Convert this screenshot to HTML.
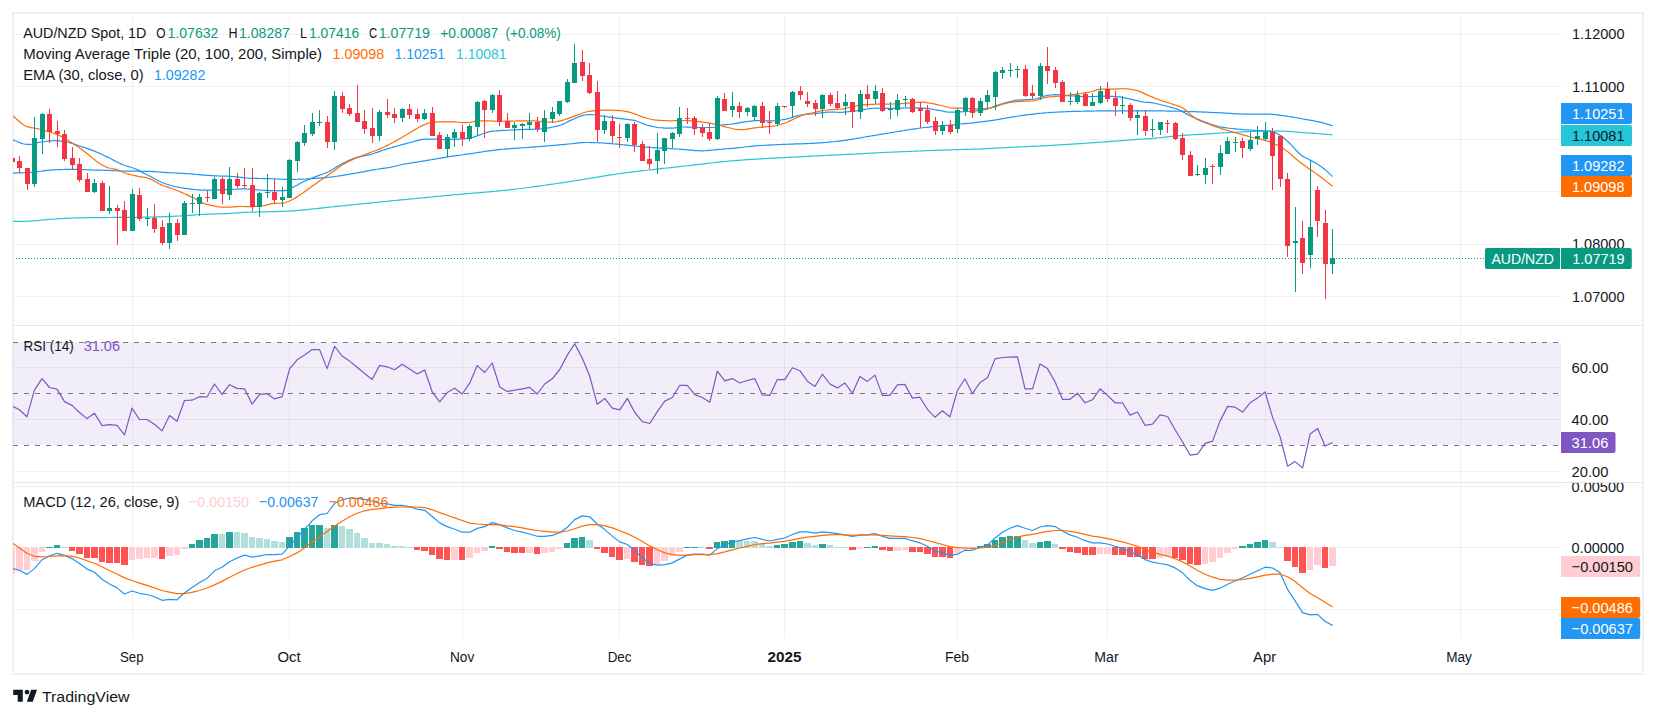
<!DOCTYPE html>
<html lang="en"><head><meta charset="utf-8"><title>AUD/NZD Spot, 1D</title>
<style>html,body{margin:0;padding:0;background:#fff}body{width:1656px;height:718px;overflow:hidden}svg{display:block}</style>
</head><body>
<svg width="1656" height="718" viewBox="0 0 1656 718" font-family='Liberation Sans, sans-serif' font-size="15.2">
<rect width="1656" height="718" fill="#fff"/>
<defs><clipPath id="cp"><rect x="13" y="14" width="1548" height="311"/></clipPath><clipPath id="cr"><rect x="13" y="326" width="1548" height="156"/></clipPath><clipPath id="cm"><rect x="13" y="483" width="1548" height="156"/></clipPath><clipPath id="cs"><rect x="1561" y="483" width="81" height="156"/></clipPath></defs>
<path d="M13,13H1643V674H13Z" fill="none" stroke="#EEEFF5" stroke-width="2" shape-rendering="crispEdges"/>
<rect x="13" y="342" width="1548" height="103" fill="#7E57C2" fill-opacity="0.1" shape-rendering="crispEdges"/>
<g shape-rendering="crispEdges" fill="#2A2E39" fill-opacity="0.065"><rect x="132" y="14" width="1" height="625"/><rect x="289" y="14" width="1" height="625"/><rect x="462" y="14" width="1" height="625"/><rect x="619" y="14" width="1" height="625"/><rect x="784" y="14" width="1" height="625"/><rect x="957" y="14" width="1" height="625"/><rect x="1107" y="14" width="1" height="625"/><rect x="1265" y="14" width="1" height="625"/><rect x="1460" y="14" width="1" height="625"/><rect x="14" y="34" width="1547" height="1"/><rect x="14" y="86" width="1547" height="1"/><rect x="14" y="139" width="1547" height="1"/><rect x="14" y="191" width="1547" height="1"/><rect x="14" y="244" width="1547" height="1"/><rect x="14" y="296" width="1547" height="1"/><rect x="14" y="367" width="1547" height="1"/><rect x="14" y="419" width="1547" height="1"/><rect x="14" y="471" width="1547" height="1"/><rect x="14" y="486" width="1547" height="1"/><rect x="14" y="547" width="1547" height="1"/><rect x="14" y="609" width="1547" height="1"/></g>
<g shape-rendering="crispEdges" fill="#E1E4EC"><rect x="14" y="325" width="1628" height="1"/><rect x="14" y="482" width="1628" height="1"/></g>
<line x1="16" x2="1484" y1="258.5" y2="258.5" stroke="#089981" stroke-width="1" stroke-dasharray="1 2" shape-rendering="crispEdges"/>
<path d="M13.0,221.30 L15.0,221.30 L17.0,221.30 L19.0,221.30 L21.0,221.30 L23.0,221.30 L25.0,221.29 L27.0,221.25 L29.0,221.16 L31.0,221.04 L33.0,220.90 L35.0,220.73 L37.0,220.54 L39.0,220.35 L41.0,220.15 L43.0,219.94 L45.0,219.75 L47.0,219.56 L49.0,219.40 L51.0,219.25 L53.0,219.13 L55.0,219.00 L57.0,218.88 L59.0,218.75 L61.0,218.63 L63.0,218.51 L65.0,218.39 L67.0,218.28 L69.0,218.17 L71.0,218.08 L73.0,217.99 L75.0,217.92 L77.0,217.86 L79.0,217.81 L81.0,217.78 L83.0,217.75 L85.0,217.72 L87.0,217.69 L89.0,217.67 L91.0,217.65 L93.0,217.63 L95.0,217.61 L97.0,217.59 L99.0,217.58 L101.0,217.56 L103.0,217.55 L105.0,217.53 L107.0,217.52 L109.0,217.50 L111.0,217.49 L113.0,217.47 L115.0,217.46 L117.0,217.44 L119.0,217.42 L121.0,217.40 L123.0,217.38 L125.0,217.37 L127.0,217.35 L129.0,217.33 L131.0,217.31 L133.0,217.29 L135.0,217.28 L137.0,217.26 L139.0,217.24 L141.0,217.21 L143.0,217.19 L145.0,217.16 L147.0,217.14 L149.0,217.10 L151.0,217.07 L153.0,217.03 L155.0,216.97 L157.0,216.92 L159.0,216.85 L161.0,216.78 L163.0,216.71 L165.0,216.63 L167.0,216.55 L169.0,216.47 L171.0,216.38 L173.0,216.29 L175.0,216.20 L177.0,216.10 L179.0,216.01 L181.0,215.89 L183.0,215.77 L185.0,215.64 L187.0,215.49 L189.0,215.35 L191.0,215.20 L193.0,215.06 L195.0,214.91 L197.0,214.77 L199.0,214.64 L201.0,214.51 L203.0,214.40 L205.0,214.30 L207.0,214.21 L209.0,214.14 L211.0,214.07 L213.0,214.00 L215.0,213.94 L217.0,213.89 L219.0,213.83 L221.0,213.76 L223.0,213.70 L225.0,213.62 L227.0,213.54 L229.0,213.45 L231.0,213.34 L233.0,213.18 L235.0,213.00 L237.0,212.81 L239.0,212.66 L241.0,212.55 L243.0,212.46 L245.0,212.38 L247.0,212.31 L249.0,212.24 L251.0,212.18 L253.0,212.12 L255.0,212.07 L257.0,212.02 L259.0,211.97 L261.0,211.92 L263.0,211.88 L265.0,211.83 L267.0,211.79 L269.0,211.74 L271.0,211.69 L273.0,211.64 L275.0,211.59 L277.0,211.53 L279.0,211.46 L281.0,211.39 L283.0,211.32 L285.0,211.23 L287.0,211.14 L289.0,211.03 L291.0,210.91 L293.0,210.78 L295.0,210.64 L297.0,210.49 L299.0,210.32 L301.0,210.15 L303.0,209.97 L305.0,209.78 L307.0,209.59 L309.0,209.39 L311.0,209.18 L313.0,208.97 L315.0,208.76 L317.0,208.54 L319.0,208.32 L321.0,208.10 L323.0,207.87 L325.0,207.65 L327.0,207.43 L329.0,207.21 L331.0,206.99 L333.0,206.77 L335.0,206.55 L337.0,206.34 L339.0,206.14 L341.0,205.94 L343.0,205.74 L345.0,205.55 L347.0,205.35 L349.0,205.15 L351.0,204.95 L353.0,204.75 L355.0,204.55 L357.0,204.35 L359.0,204.14 L361.0,203.94 L363.0,203.74 L365.0,203.53 L367.0,203.33 L369.0,203.13 L371.0,202.92 L373.0,202.72 L375.0,202.52 L377.0,202.31 L379.0,202.11 L381.0,201.91 L383.0,201.70 L385.0,201.50 L387.0,201.30 L389.0,201.10 L391.0,200.90 L393.0,200.70 L395.0,200.51 L397.0,200.31 L399.0,200.11 L401.0,199.92 L403.0,199.72 L405.0,199.53 L407.0,199.33 L409.0,199.14 L411.0,198.95 L413.0,198.75 L415.0,198.56 L417.0,198.37 L419.0,198.17 L421.0,197.98 L423.0,197.79 L425.0,197.60 L427.0,197.41 L429.0,197.21 L431.0,197.02 L433.0,196.83 L435.0,196.64 L437.0,196.45 L439.0,196.26 L441.0,196.08 L443.0,195.89 L445.0,195.70 L447.0,195.51 L449.0,195.32 L451.0,195.14 L453.0,194.95 L455.0,194.76 L457.0,194.58 L459.0,194.39 L461.0,194.21 L463.0,194.03 L465.0,193.85 L467.0,193.67 L469.0,193.50 L471.0,193.33 L473.0,193.16 L475.0,192.99 L477.0,192.82 L479.0,192.65 L481.0,192.48 L483.0,192.32 L485.0,192.15 L487.0,191.98 L489.0,191.80 L491.0,191.63 L493.0,191.45 L495.0,191.27 L497.0,191.09 L499.0,190.91 L501.0,190.72 L503.0,190.52 L505.0,190.32 L507.0,190.12 L509.0,189.91 L511.0,189.69 L513.0,189.47 L515.0,189.24 L517.0,189.00 L519.0,188.76 L521.0,188.52 L523.0,188.27 L525.0,188.01 L527.0,187.75 L529.0,187.48 L531.0,187.22 L533.0,186.94 L535.0,186.67 L537.0,186.39 L539.0,186.10 L541.0,185.82 L543.0,185.53 L545.0,185.24 L547.0,184.95 L549.0,184.66 L551.0,184.37 L553.0,184.07 L555.0,183.78 L557.0,183.48 L559.0,183.19 L561.0,182.89 L563.0,182.60 L565.0,182.30 L567.0,182.01 L569.0,181.71 L571.0,181.40 L573.0,181.09 L575.0,180.77 L577.0,180.45 L579.0,180.13 L581.0,179.80 L583.0,179.47 L585.0,179.14 L587.0,178.81 L589.0,178.48 L591.0,178.14 L593.0,177.81 L595.0,177.47 L597.0,177.14 L599.0,176.81 L601.0,176.48 L603.0,176.16 L605.0,175.84 L607.0,175.52 L609.0,175.21 L611.0,174.90 L613.0,174.60 L615.0,174.30 L617.0,174.01 L619.0,173.73 L621.0,173.45 L623.0,173.19 L625.0,172.92 L627.0,172.66 L629.0,172.41 L631.0,172.16 L633.0,171.91 L635.0,171.66 L637.0,171.42 L639.0,171.18 L641.0,170.94 L643.0,170.71 L645.0,170.48 L647.0,170.25 L649.0,170.02 L651.0,169.79 L653.0,169.57 L655.0,169.34 L657.0,169.12 L659.0,168.90 L661.0,168.68 L663.0,168.46 L665.0,168.24 L667.0,168.02 L669.0,167.80 L671.0,167.58 L673.0,167.36 L675.0,167.13 L677.0,166.91 L679.0,166.69 L681.0,166.46 L683.0,166.23 L685.0,166.00 L687.0,165.77 L689.0,165.54 L691.0,165.30 L693.0,165.07 L695.0,164.83 L697.0,164.60 L699.0,164.36 L701.0,164.13 L703.0,163.90 L705.0,163.67 L707.0,163.44 L709.0,163.21 L711.0,162.99 L713.0,162.76 L715.0,162.55 L717.0,162.33 L719.0,162.12 L721.0,161.91 L723.0,161.71 L725.0,161.51 L727.0,161.32 L729.0,161.13 L731.0,160.94 L733.0,160.77 L735.0,160.60 L737.0,160.43 L739.0,160.28 L741.0,160.13 L743.0,159.98 L745.0,159.84 L747.0,159.70 L749.0,159.57 L751.0,159.44 L753.0,159.31 L755.0,159.19 L757.0,159.07 L759.0,158.95 L761.0,158.84 L763.0,158.72 L765.0,158.61 L767.0,158.50 L769.0,158.39 L771.0,158.29 L773.0,158.18 L775.0,158.07 L777.0,157.97 L779.0,157.86 L781.0,157.75 L783.0,157.65 L785.0,157.54 L787.0,157.43 L789.0,157.32 L791.0,157.22 L793.0,157.11 L795.0,157.01 L797.0,156.90 L799.0,156.80 L801.0,156.70 L803.0,156.60 L805.0,156.50 L807.0,156.40 L809.0,156.30 L811.0,156.20 L813.0,156.10 L815.0,156.00 L817.0,155.90 L819.0,155.80 L821.0,155.71 L823.0,155.61 L825.0,155.51 L827.0,155.41 L829.0,155.31 L831.0,155.22 L833.0,155.12 L835.0,155.02 L837.0,154.92 L839.0,154.82 L841.0,154.72 L843.0,154.62 L845.0,154.52 L847.0,154.42 L849.0,154.31 L851.0,154.21 L853.0,154.10 L855.0,154.00 L857.0,153.89 L859.0,153.79 L861.0,153.68 L863.0,153.58 L865.0,153.47 L867.0,153.37 L869.0,153.27 L871.0,153.16 L873.0,153.06 L875.0,152.96 L877.0,152.85 L879.0,152.75 L881.0,152.65 L883.0,152.55 L885.0,152.46 L887.0,152.36 L889.0,152.27 L891.0,152.17 L893.0,152.08 L895.0,151.99 L897.0,151.90 L899.0,151.82 L901.0,151.73 L903.0,151.65 L905.0,151.56 L907.0,151.48 L909.0,151.39 L911.0,151.31 L913.0,151.23 L915.0,151.14 L917.0,151.06 L919.0,150.98 L921.0,150.90 L923.0,150.82 L925.0,150.74 L927.0,150.66 L929.0,150.59 L931.0,150.51 L933.0,150.44 L935.0,150.36 L937.0,150.29 L939.0,150.22 L941.0,150.14 L943.0,150.07 L945.0,150.01 L947.0,149.94 L949.0,149.87 L951.0,149.80 L953.0,149.74 L955.0,149.68 L957.0,149.62 L959.0,149.56 L961.0,149.50 L963.0,149.45 L965.0,149.40 L967.0,149.36 L969.0,149.31 L971.0,149.26 L973.0,149.20 L975.0,149.14 L977.0,149.07 L979.0,148.99 L981.0,148.91 L983.0,148.82 L985.0,148.72 L987.0,148.62 L989.0,148.51 L991.0,148.40 L993.0,148.29 L995.0,148.18 L997.0,148.08 L999.0,147.97 L1001.0,147.87 L1003.0,147.77 L1005.0,147.67 L1007.0,147.57 L1009.0,147.47 L1011.0,147.37 L1013.0,147.27 L1015.0,147.17 L1017.0,147.07 L1019.0,146.97 L1021.0,146.87 L1023.0,146.77 L1025.0,146.68 L1027.0,146.58 L1029.0,146.48 L1031.0,146.38 L1033.0,146.29 L1035.0,146.19 L1037.0,146.09 L1039.0,145.99 L1041.0,145.90 L1043.0,145.80 L1045.0,145.69 L1047.0,145.59 L1049.0,145.48 L1051.0,145.38 L1053.0,145.27 L1055.0,145.16 L1057.0,145.05 L1059.0,144.93 L1061.0,144.82 L1063.0,144.70 L1065.0,144.59 L1067.0,144.47 L1069.0,144.34 L1071.0,144.22 L1073.0,144.09 L1075.0,143.96 L1077.0,143.83 L1079.0,143.69 L1081.0,143.55 L1083.0,143.41 L1085.0,143.27 L1087.0,143.12 L1089.0,142.98 L1091.0,142.83 L1093.0,142.69 L1095.0,142.54 L1097.0,142.40 L1099.0,142.26 L1101.0,142.12 L1103.0,141.98 L1105.0,141.85 L1107.0,141.71 L1109.0,141.57 L1111.0,141.43 L1113.0,141.29 L1115.0,141.15 L1117.0,141.01 L1119.0,140.86 L1121.0,140.71 L1123.0,140.56 L1125.0,140.40 L1127.0,140.24 L1129.0,140.07 L1131.0,139.90 L1133.0,139.73 L1135.0,139.57 L1137.0,139.42 L1139.0,139.27 L1141.0,139.14 L1143.0,139.02 L1145.0,138.91 L1147.0,138.79 L1149.0,138.67 L1151.0,138.53 L1153.0,138.36 L1155.0,138.18 L1157.0,137.98 L1159.0,137.77 L1161.0,137.55 L1163.0,137.33 L1165.0,137.10 L1167.0,136.88 L1169.0,136.66 L1171.0,136.44 L1173.0,136.24 L1175.0,136.05 L1177.0,135.87 L1179.0,135.71 L1181.0,135.56 L1183.0,135.42 L1185.0,135.28 L1187.0,135.15 L1189.0,135.02 L1191.0,134.89 L1193.0,134.77 L1195.0,134.65 L1197.0,134.53 L1199.0,134.41 L1201.0,134.29 L1203.0,134.17 L1205.0,134.04 L1207.0,133.92 L1209.0,133.79 L1211.0,133.66 L1213.0,133.53 L1215.0,133.40 L1217.0,133.27 L1219.0,133.14 L1221.0,133.01 L1223.0,132.89 L1225.0,132.77 L1227.0,132.65 L1229.0,132.54 L1231.0,132.43 L1233.0,132.33 L1235.0,132.23 L1237.0,132.13 L1239.0,132.02 L1241.0,131.92 L1243.0,131.81 L1245.0,131.71 L1247.0,131.61 L1249.0,131.51 L1251.0,131.43 L1253.0,131.36 L1255.0,131.29 L1257.0,131.25 L1259.0,131.21 L1261.0,131.20 L1263.0,131.20 L1265.0,131.20 L1267.0,131.20 L1269.0,131.20 L1271.0,131.20 L1273.0,131.20 L1275.0,131.20 L1277.0,131.20 L1279.0,131.20 L1281.0,131.20 L1283.0,131.20 L1285.0,131.24 L1287.0,131.32 L1289.0,131.44 L1291.0,131.58 L1293.0,131.74 L1295.0,131.91 L1297.0,132.09 L1299.0,132.26 L1301.0,132.43 L1303.0,132.59 L1305.0,132.73 L1307.0,132.87 L1309.0,133.01 L1311.0,133.16 L1313.0,133.31 L1315.0,133.45 L1317.0,133.60 L1319.0,133.75 L1321.0,133.90 L1323.0,134.06 L1325.0,134.21 L1327.0,134.37 L1329.0,134.52 L1331.0,134.68 L1332.5,134.80" fill="none" stroke="#26C6DA" stroke-width="1.2" stroke-linejoin="round" clip-path="url(#cp)"/>
<path d="M13.0,173.15 L15.0,173.06 L17.0,172.97 L19.0,172.90 L21.0,172.83 L23.0,172.76 L25.0,172.68 L27.0,172.60 L29.0,172.51 L31.0,172.39 L33.0,172.24 L35.0,172.03 L37.0,171.79 L39.0,171.52 L41.0,171.23 L43.0,170.94 L45.0,170.67 L47.0,170.42 L49.0,170.21 L51.0,170.05 L53.0,169.94 L55.0,169.84 L57.0,169.74 L59.0,169.65 L61.0,169.56 L63.0,169.49 L65.0,169.42 L67.0,169.37 L69.0,169.33 L71.0,169.31 L73.0,169.30 L75.0,169.32 L77.0,169.36 L79.0,169.41 L81.0,169.48 L83.0,169.56 L85.0,169.65 L87.0,169.74 L89.0,169.83 L91.0,169.91 L93.0,169.98 L95.0,170.04 L97.0,170.10 L99.0,170.15 L101.0,170.21 L103.0,170.26 L105.0,170.32 L107.0,170.38 L109.0,170.46 L111.0,170.55 L113.0,170.66 L115.0,170.77 L117.0,170.87 L119.0,170.94 L121.0,170.99 L123.0,171.02 L125.0,171.03 L127.0,171.05 L129.0,171.06 L131.0,171.07 L133.0,171.08 L135.0,171.10 L137.0,171.12 L139.0,171.15 L141.0,171.18 L143.0,171.23 L145.0,171.28 L147.0,171.33 L149.0,171.39 L151.0,171.47 L153.0,171.58 L155.0,171.71 L157.0,171.86 L159.0,172.01 L161.0,172.15 L163.0,172.29 L165.0,172.41 L167.0,172.53 L169.0,172.64 L171.0,172.76 L173.0,172.87 L175.0,172.99 L177.0,173.10 L179.0,173.21 L181.0,173.32 L183.0,173.42 L185.0,173.53 L187.0,173.64 L189.0,173.77 L191.0,173.90 L193.0,174.06 L195.0,174.24 L197.0,174.45 L199.0,174.65 L201.0,174.86 L203.0,175.04 L205.0,175.20 L207.0,175.34 L209.0,175.47 L211.0,175.60 L213.0,175.72 L215.0,175.82 L217.0,175.92 L219.0,176.00 L221.0,176.06 L223.0,176.11 L225.0,176.15 L227.0,176.20 L229.0,176.26 L231.0,176.35 L233.0,176.50 L235.0,176.68 L237.0,176.89 L239.0,177.10 L241.0,177.30 L243.0,177.53 L245.0,177.78 L247.0,178.01 L249.0,178.19 L251.0,178.30 L253.0,178.36 L255.0,178.41 L257.0,178.45 L259.0,178.48 L261.0,178.51 L263.0,178.54 L265.0,178.56 L267.0,178.59 L269.0,178.63 L271.0,178.68 L273.0,178.74 L275.0,178.85 L277.0,178.98 L279.0,179.12 L281.0,179.24 L283.0,179.34 L285.0,179.40 L287.0,179.40 L289.0,179.38 L291.0,179.36 L293.0,179.33 L295.0,179.30 L297.0,179.26 L299.0,179.21 L301.0,179.17 L303.0,179.10 L305.0,179.02 L307.0,178.93 L309.0,178.82 L311.0,178.71 L313.0,178.58 L315.0,178.44 L317.0,178.29 L319.0,178.13 L321.0,177.97 L323.0,177.80 L325.0,177.62 L327.0,177.45 L329.0,177.26 L331.0,177.04 L333.0,176.80 L335.0,176.53 L337.0,176.25 L339.0,175.94 L341.0,175.63 L343.0,175.30 L345.0,174.96 L347.0,174.62 L349.0,174.28 L351.0,173.93 L353.0,173.59 L355.0,173.25 L357.0,172.91 L359.0,172.55 L361.0,172.18 L363.0,171.81 L365.0,171.43 L367.0,171.04 L369.0,170.67 L371.0,170.30 L373.0,169.94 L375.0,169.60 L377.0,169.28 L379.0,168.99 L381.0,168.71 L383.0,168.43 L385.0,168.15 L387.0,167.84 L389.0,167.51 L391.0,167.14 L393.0,166.71 L395.0,166.22 L397.0,165.71 L399.0,165.22 L401.0,164.78 L403.0,164.39 L405.0,164.02 L407.0,163.67 L409.0,163.34 L411.0,163.01 L413.0,162.69 L415.0,162.38 L417.0,162.07 L419.0,161.76 L421.0,161.45 L423.0,161.13 L425.0,160.80 L427.0,160.46 L429.0,160.12 L431.0,159.77 L433.0,159.42 L435.0,159.08 L437.0,158.73 L439.0,158.38 L441.0,158.04 L443.0,157.71 L445.0,157.38 L447.0,157.06 L449.0,156.75 L451.0,156.45 L453.0,156.15 L455.0,155.86 L457.0,155.58 L459.0,155.29 L461.0,155.01 L463.0,154.73 L465.0,154.45 L467.0,154.17 L469.0,153.89 L471.0,153.60 L473.0,153.31 L475.0,153.00 L477.0,152.69 L479.0,152.38 L481.0,152.06 L483.0,151.75 L485.0,151.44 L487.0,151.13 L489.0,150.84 L491.0,150.55 L493.0,150.29 L495.0,150.03 L497.0,149.80 L499.0,149.59 L501.0,149.40 L503.0,149.23 L505.0,149.08 L507.0,148.93 L509.0,148.78 L511.0,148.62 L513.0,148.47 L515.0,148.33 L517.0,148.19 L519.0,148.05 L521.0,147.91 L523.0,147.77 L525.0,147.63 L527.0,147.50 L529.0,147.36 L531.0,147.21 L533.0,147.07 L535.0,146.92 L537.0,146.77 L539.0,146.61 L541.0,146.45 L543.0,146.29 L545.0,146.12 L547.0,145.95 L549.0,145.77 L551.0,145.60 L553.0,145.42 L555.0,145.24 L557.0,145.07 L559.0,144.89 L561.0,144.71 L563.0,144.53 L565.0,144.36 L567.0,144.18 L569.0,143.98 L571.0,143.76 L573.0,143.53 L575.0,143.30 L577.0,143.08 L579.0,142.89 L581.0,142.72 L583.0,142.60 L585.0,142.52 L587.0,142.50 L589.0,142.52 L591.0,142.56 L593.0,142.61 L595.0,142.68 L597.0,142.76 L599.0,142.84 L601.0,142.92 L603.0,143.02 L605.0,143.15 L607.0,143.29 L609.0,143.45 L611.0,143.63 L613.0,143.81 L615.0,144.00 L617.0,144.19 L619.0,144.38 L621.0,144.56 L623.0,144.75 L625.0,144.94 L627.0,145.15 L629.0,145.36 L631.0,145.58 L633.0,145.80 L635.0,146.02 L637.0,146.24 L639.0,146.45 L641.0,146.66 L643.0,146.86 L645.0,147.05 L647.0,147.22 L649.0,147.38 L651.0,147.52 L653.0,147.65 L655.0,147.78 L657.0,147.90 L659.0,148.01 L661.0,148.12 L663.0,148.22 L665.0,148.33 L667.0,148.43 L669.0,148.53 L671.0,148.64 L673.0,148.75 L675.0,148.87 L677.0,148.99 L679.0,149.13 L681.0,149.29 L683.0,149.47 L685.0,149.66 L687.0,149.85 L689.0,150.04 L691.0,150.22 L693.0,150.39 L695.0,150.53 L697.0,150.65 L699.0,150.74 L701.0,150.79 L703.0,150.79 L705.0,150.73 L707.0,150.60 L709.0,150.43 L711.0,150.22 L713.0,150.00 L715.0,149.78 L717.0,149.57 L719.0,149.39 L721.0,149.23 L723.0,149.07 L725.0,148.92 L727.0,148.76 L729.0,148.61 L731.0,148.44 L733.0,148.28 L735.0,148.10 L737.0,147.91 L739.0,147.70 L741.0,147.48 L743.0,147.24 L745.0,147.01 L747.0,146.77 L749.0,146.54 L751.0,146.32 L753.0,146.12 L755.0,145.93 L757.0,145.76 L759.0,145.63 L761.0,145.50 L763.0,145.37 L765.0,145.26 L767.0,145.15 L769.0,145.04 L771.0,144.95 L773.0,144.85 L775.0,144.76 L777.0,144.67 L779.0,144.58 L781.0,144.50 L783.0,144.41 L785.0,144.33 L787.0,144.25 L789.0,144.17 L791.0,144.10 L793.0,144.04 L795.0,143.97 L797.0,143.91 L799.0,143.85 L801.0,143.79 L803.0,143.73 L805.0,143.66 L807.0,143.59 L809.0,143.51 L811.0,143.42 L813.0,143.33 L815.0,143.22 L817.0,143.10 L819.0,142.97 L821.0,142.83 L823.0,142.67 L825.0,142.50 L827.0,142.32 L829.0,142.13 L831.0,141.93 L833.0,141.73 L835.0,141.52 L837.0,141.30 L839.0,141.07 L841.0,140.85 L843.0,140.61 L845.0,140.35 L847.0,140.06 L849.0,139.76 L851.0,139.45 L853.0,139.12 L855.0,138.78 L857.0,138.43 L859.0,138.08 L861.0,137.73 L863.0,137.37 L865.0,137.03 L867.0,136.68 L869.0,136.35 L871.0,136.02 L873.0,135.69 L875.0,135.36 L877.0,135.02 L879.0,134.69 L881.0,134.35 L883.0,134.01 L885.0,133.68 L887.0,133.34 L889.0,133.01 L891.0,132.68 L893.0,132.36 L895.0,132.03 L897.0,131.72 L899.0,131.40 L901.0,131.07 L903.0,130.75 L905.0,130.42 L907.0,130.09 L909.0,129.77 L911.0,129.45 L913.0,129.14 L915.0,128.83 L917.0,128.54 L919.0,128.26 L921.0,127.99 L923.0,127.73 L925.0,127.50 L927.0,127.29 L929.0,127.09 L931.0,126.91 L933.0,126.73 L935.0,126.56 L937.0,126.38 L939.0,126.19 L941.0,126.00 L943.0,125.80 L945.0,125.60 L947.0,125.41 L949.0,125.21 L951.0,125.00 L953.0,124.80 L955.0,124.60 L957.0,124.40 L959.0,124.20 L961.0,124.01 L963.0,123.81 L965.0,123.62 L967.0,123.43 L969.0,123.23 L971.0,123.03 L973.0,122.83 L975.0,122.62 L977.0,122.41 L979.0,122.19 L981.0,121.96 L983.0,121.72 L985.0,121.47 L987.0,121.21 L989.0,120.93 L991.0,120.62 L993.0,120.31 L995.0,119.98 L997.0,119.64 L999.0,119.29 L1001.0,118.94 L1003.0,118.59 L1005.0,118.24 L1007.0,117.89 L1009.0,117.54 L1011.0,117.20 L1013.0,116.88 L1015.0,116.56 L1017.0,116.26 L1019.0,115.98 L1021.0,115.71 L1023.0,115.44 L1025.0,115.18 L1027.0,114.91 L1029.0,114.64 L1031.0,114.39 L1033.0,114.13 L1035.0,113.89 L1037.0,113.66 L1039.0,113.44 L1041.0,113.24 L1043.0,113.05 L1045.0,112.88 L1047.0,112.73 L1049.0,112.60 L1051.0,112.47 L1053.0,112.35 L1055.0,112.24 L1057.0,112.12 L1059.0,112.02 L1061.0,111.92 L1063.0,111.82 L1065.0,111.74 L1067.0,111.66 L1069.0,111.58 L1071.0,111.52 L1073.0,111.46 L1075.0,111.41 L1077.0,111.36 L1079.0,111.32 L1081.0,111.27 L1083.0,111.23 L1085.0,111.19 L1087.0,111.15 L1089.0,111.11 L1091.0,111.07 L1093.0,111.03 L1095.0,111.00 L1097.0,110.97 L1099.0,110.94 L1101.0,110.91 L1103.0,110.89 L1105.0,110.87 L1107.0,110.85 L1109.0,110.83 L1111.0,110.82 L1113.0,110.81 L1115.0,110.80 L1117.0,110.80 L1119.0,110.80 L1121.0,110.80 L1123.0,110.80 L1125.0,110.80 L1127.0,110.80 L1129.0,110.80 L1131.0,110.80 L1133.0,110.80 L1135.0,110.80 L1137.0,110.80 L1139.0,110.80 L1141.0,110.80 L1143.0,110.80 L1145.0,110.80 L1147.0,110.80 L1149.0,110.81 L1151.0,110.82 L1153.0,110.83 L1155.0,110.85 L1157.0,110.87 L1159.0,110.90 L1161.0,110.93 L1163.0,110.96 L1165.0,110.99 L1167.0,111.03 L1169.0,111.06 L1171.0,111.10 L1173.0,111.14 L1175.0,111.19 L1177.0,111.23 L1179.0,111.27 L1181.0,111.32 L1183.0,111.36 L1185.0,111.40 L1187.0,111.45 L1189.0,111.51 L1191.0,111.57 L1193.0,111.64 L1195.0,111.71 L1197.0,111.79 L1199.0,111.87 L1201.0,111.96 L1203.0,112.04 L1205.0,112.13 L1207.0,112.22 L1209.0,112.32 L1211.0,112.41 L1213.0,112.50 L1215.0,112.59 L1217.0,112.69 L1219.0,112.77 L1221.0,112.86 L1223.0,112.97 L1225.0,113.08 L1227.0,113.20 L1229.0,113.32 L1231.0,113.45 L1233.0,113.57 L1235.0,113.68 L1237.0,113.79 L1239.0,113.89 L1241.0,113.97 L1243.0,114.04 L1245.0,114.08 L1247.0,114.10 L1249.0,114.10 L1251.0,114.10 L1253.0,114.10 L1255.0,114.10 L1257.0,114.10 L1259.0,114.10 L1261.0,114.10 L1263.0,114.10 L1265.0,114.10 L1267.0,114.10 L1269.0,114.10 L1271.0,114.18 L1273.0,114.33 L1275.0,114.54 L1277.0,114.79 L1279.0,115.06 L1281.0,115.33 L1283.0,115.59 L1285.0,115.86 L1287.0,116.16 L1289.0,116.48 L1291.0,116.81 L1293.0,117.16 L1295.0,117.52 L1297.0,117.89 L1299.0,118.25 L1301.0,118.61 L1303.0,118.97 L1305.0,119.31 L1307.0,119.64 L1309.0,119.98 L1311.0,120.32 L1313.0,120.68 L1315.0,121.06 L1317.0,121.48 L1319.0,121.93 L1321.0,122.42 L1323.0,122.94 L1325.0,123.49 L1327.0,124.07 L1329.0,124.68 L1331.0,125.31 L1332.5,125.80" fill="none" stroke="#2196F3" stroke-width="1.2" stroke-linejoin="round" clip-path="url(#cp)"/>
<path d="M13.0,140.10 L15.0,140.73 L17.0,141.48 L19.0,142.29 L21.0,143.07 L23.0,143.73 L25.0,144.17 L27.0,144.30 L29.0,144.30 L31.0,144.30 L33.0,144.00 L35.0,143.34 L37.0,142.69 L39.0,142.33 L41.0,142.03 L43.0,141.75 L45.0,141.48 L47.0,141.25 L49.0,141.04 L51.0,140.88 L53.0,140.77 L55.0,140.71 L57.0,140.72 L59.0,140.85 L61.0,141.07 L63.0,141.37 L65.0,141.69 L67.0,142.04 L69.0,142.51 L71.0,143.09 L73.0,143.74 L75.0,144.43 L77.0,145.13 L79.0,145.80 L81.0,146.45 L83.0,147.09 L85.0,147.75 L87.0,148.41 L89.0,149.10 L91.0,149.82 L93.0,150.57 L95.0,151.36 L97.0,152.21 L99.0,153.10 L101.0,154.02 L103.0,154.97 L105.0,155.92 L107.0,156.87 L109.0,157.82 L111.0,158.83 L113.0,159.87 L115.0,160.91 L117.0,161.95 L119.0,162.95 L121.0,163.88 L123.0,164.74 L125.0,165.48 L127.0,166.10 L129.0,166.67 L131.0,167.26 L133.0,167.95 L135.0,168.76 L137.0,169.65 L139.0,170.61 L141.0,171.61 L143.0,172.65 L145.0,173.70 L147.0,174.74 L149.0,175.75 L151.0,176.77 L153.0,177.84 L155.0,178.93 L157.0,180.01 L159.0,181.05 L161.0,181.99 L163.0,182.82 L165.0,183.56 L167.0,184.25 L169.0,184.90 L171.0,185.50 L173.0,186.05 L175.0,186.55 L177.0,186.98 L179.0,187.37 L181.0,187.73 L183.0,188.06 L185.0,188.36 L187.0,188.63 L189.0,188.88 L191.0,189.10 L193.0,189.31 L195.0,189.53 L197.0,189.74 L199.0,189.92 L201.0,190.07 L203.0,190.16 L205.0,190.20 L207.0,190.18 L209.0,190.14 L211.0,190.08 L213.0,190.01 L215.0,189.93 L217.0,189.86 L219.0,189.80 L221.0,189.74 L223.0,189.69 L225.0,189.64 L227.0,189.59 L229.0,189.53 L231.0,189.46 L233.0,189.37 L235.0,189.26 L237.0,189.14 L239.0,189.03 L241.0,188.95 L243.0,188.91 L245.0,188.91 L247.0,188.99 L249.0,189.13 L251.0,189.31 L253.0,189.50 L255.0,189.68 L257.0,189.84 L259.0,189.97 L261.0,190.10 L263.0,190.23 L265.0,190.36 L267.0,190.47 L269.0,190.55 L271.0,190.60 L273.0,190.60 L275.0,190.60 L277.0,190.60 L279.0,190.60 L281.0,190.60 L283.0,190.60 L285.0,190.56 L287.0,190.08 L289.0,189.23 L291.0,188.22 L293.0,187.26 L295.0,186.27 L297.0,185.16 L299.0,184.01 L301.0,182.91 L303.0,181.92 L305.0,181.00 L307.0,180.12 L309.0,179.27 L311.0,178.45 L313.0,177.64 L315.0,176.86 L317.0,176.13 L319.0,175.43 L321.0,174.74 L323.0,174.03 L325.0,173.26 L327.0,172.42 L329.0,171.47 L331.0,170.36 L333.0,169.15 L335.0,167.89 L337.0,166.63 L339.0,165.41 L341.0,164.31 L343.0,163.29 L345.0,162.27 L347.0,161.28 L349.0,160.34 L351.0,159.46 L353.0,158.67 L355.0,157.99 L357.0,157.43 L359.0,156.96 L361.0,156.55 L363.0,156.16 L365.0,155.77 L367.0,155.36 L369.0,154.88 L371.0,154.32 L373.0,153.70 L375.0,153.02 L377.0,152.32 L379.0,151.62 L381.0,150.92 L383.0,150.26 L385.0,149.63 L387.0,149.01 L389.0,148.39 L391.0,147.79 L393.0,147.19 L395.0,146.60 L397.0,146.03 L399.0,145.46 L401.0,144.91 L403.0,144.36 L405.0,143.83 L407.0,143.30 L409.0,142.79 L411.0,142.30 L413.0,141.77 L415.0,141.19 L417.0,140.61 L419.0,140.06 L421.0,139.62 L423.0,139.31 L425.0,139.20 L427.0,139.20 L429.0,139.20 L431.0,139.20 L433.0,139.20 L435.0,139.20 L437.0,139.21 L439.0,139.34 L441.0,139.51 L443.0,139.60 L445.0,139.59 L447.0,139.56 L449.0,139.51 L451.0,139.45 L453.0,139.37 L455.0,139.29 L457.0,139.20 L459.0,139.11 L461.0,139.00 L463.0,138.87 L465.0,138.71 L467.0,138.52 L469.0,138.29 L471.0,137.95 L473.0,137.35 L475.0,136.59 L477.0,135.84 L479.0,135.18 L481.0,134.48 L483.0,133.76 L485.0,133.05 L487.0,132.40 L489.0,131.85 L491.0,131.44 L493.0,131.19 L495.0,131.00 L497.0,130.83 L499.0,130.70 L501.0,130.58 L503.0,130.46 L505.0,130.35 L507.0,130.24 L509.0,130.12 L511.0,130.01 L513.0,129.91 L515.0,129.81 L517.0,129.72 L519.0,129.64 L521.0,129.57 L523.0,129.51 L525.0,129.46 L527.0,129.41 L529.0,129.37 L531.0,129.33 L533.0,129.28 L535.0,129.22 L537.0,129.14 L539.0,129.04 L541.0,128.89 L543.0,128.68 L545.0,128.43 L547.0,128.14 L549.0,127.80 L551.0,127.42 L553.0,127.02 L555.0,126.58 L557.0,126.11 L559.0,125.62 L561.0,124.98 L563.0,124.15 L565.0,123.19 L567.0,122.16 L569.0,121.13 L571.0,120.15 L573.0,119.28 L575.0,118.41 L577.0,117.52 L579.0,116.67 L581.0,115.93 L583.0,115.36 L585.0,114.99 L587.0,114.67 L589.0,114.51 L591.0,114.55 L593.0,114.74 L595.0,115.03 L597.0,115.36 L599.0,115.68 L601.0,115.96 L603.0,116.23 L605.0,116.49 L607.0,116.76 L609.0,117.04 L611.0,117.31 L613.0,117.58 L615.0,117.85 L617.0,118.12 L619.0,118.39 L621.0,118.65 L623.0,118.89 L625.0,119.12 L627.0,119.33 L629.0,119.57 L631.0,119.84 L633.0,120.17 L635.0,120.66 L637.0,121.29 L639.0,122.02 L641.0,122.81 L643.0,123.61 L645.0,124.38 L647.0,125.07 L649.0,125.63 L651.0,126.09 L653.0,126.53 L655.0,126.94 L657.0,127.29 L659.0,127.56 L661.0,127.75 L663.0,127.90 L665.0,128.03 L667.0,128.13 L669.0,128.19 L671.0,128.19 L673.0,128.07 L675.0,127.87 L677.0,127.62 L679.0,127.37 L681.0,127.15 L683.0,127.02 L685.0,127.01 L687.0,127.06 L689.0,127.14 L691.0,127.25 L693.0,127.35 L695.0,127.44 L697.0,127.49 L699.0,127.50 L701.0,127.50 L703.0,127.50 L705.0,127.50 L707.0,127.50 L709.0,127.50 L711.0,127.50 L713.0,127.44 L715.0,127.01 L717.0,126.35 L719.0,125.65 L721.0,125.11 L723.0,124.86 L725.0,124.69 L727.0,124.55 L729.0,124.40 L731.0,124.18 L733.0,123.89 L735.0,123.54 L737.0,123.17 L739.0,122.79 L741.0,122.43 L743.0,122.12 L745.0,121.86 L747.0,121.59 L749.0,121.32 L751.0,121.07 L753.0,120.86 L755.0,120.70 L757.0,120.61 L759.0,120.61 L761.0,120.64 L763.0,120.69 L765.0,120.75 L767.0,120.82 L769.0,120.87 L771.0,120.90 L773.0,120.88 L775.0,120.77 L777.0,120.58 L779.0,120.32 L781.0,120.01 L783.0,119.67 L785.0,119.32 L787.0,118.93 L789.0,118.38 L791.0,117.74 L793.0,117.07 L795.0,116.44 L797.0,115.93 L799.0,115.48 L801.0,115.07 L803.0,114.73 L805.0,114.49 L807.0,114.31 L809.0,114.16 L811.0,114.01 L813.0,113.84 L815.0,113.61 L817.0,113.33 L819.0,113.04 L821.0,112.78 L823.0,112.58 L825.0,112.39 L827.0,112.22 L829.0,112.12 L831.0,112.10 L833.0,112.14 L835.0,112.20 L837.0,112.26 L839.0,112.29 L841.0,112.29 L843.0,112.21 L845.0,112.07 L847.0,111.88 L849.0,111.66 L851.0,111.41 L853.0,111.15 L855.0,110.90 L857.0,110.67 L859.0,110.39 L861.0,110.06 L863.0,109.70 L865.0,109.33 L867.0,108.98 L869.0,108.66 L871.0,108.41 L873.0,108.25 L875.0,108.20 L877.0,108.22 L879.0,108.25 L881.0,108.28 L883.0,108.30 L885.0,108.30 L887.0,108.30 L889.0,108.30 L891.0,108.30 L893.0,108.30 L895.0,108.30 L897.0,108.30 L899.0,108.27 L901.0,108.20 L903.0,108.11 L905.0,108.00 L907.0,107.90 L909.0,107.83 L911.0,107.80 L913.0,107.81 L915.0,107.85 L917.0,107.91 L919.0,107.99 L921.0,108.08 L923.0,108.19 L925.0,108.30 L927.0,108.46 L929.0,108.71 L931.0,109.02 L933.0,109.36 L935.0,109.73 L937.0,110.09 L939.0,110.42 L941.0,110.78 L943.0,111.20 L945.0,111.62 L947.0,111.96 L949.0,112.17 L951.0,112.20 L953.0,112.17 L955.0,112.11 L957.0,112.04 L959.0,111.95 L961.0,111.85 L963.0,111.75 L965.0,111.64 L967.0,111.52 L969.0,111.39 L971.0,111.24 L973.0,111.06 L975.0,110.87 L977.0,110.66 L979.0,110.42 L981.0,110.16 L983.0,109.88 L985.0,109.57 L987.0,109.11 L989.0,108.48 L991.0,107.73 L993.0,106.92 L995.0,106.11 L997.0,105.35 L999.0,104.71 L1001.0,104.11 L1003.0,103.49 L1005.0,102.87 L1007.0,102.28 L1009.0,101.72 L1011.0,101.22 L1013.0,100.78 L1015.0,100.43 L1017.0,100.19 L1019.0,100.03 L1021.0,99.90 L1023.0,99.80 L1025.0,99.72 L1027.0,99.64 L1029.0,99.54 L1031.0,99.42 L1033.0,99.26 L1035.0,98.99 L1037.0,98.51 L1039.0,97.88 L1041.0,97.18 L1043.0,96.49 L1045.0,95.90 L1047.0,95.47 L1049.0,95.22 L1051.0,94.99 L1053.0,94.81 L1055.0,94.71 L1057.0,94.72 L1059.0,94.82 L1061.0,94.99 L1063.0,95.20 L1065.0,95.41 L1067.0,95.60 L1069.0,95.74 L1071.0,95.86 L1073.0,95.99 L1075.0,96.12 L1077.0,96.25 L1079.0,96.37 L1081.0,96.47 L1083.0,96.56 L1085.0,96.63 L1087.0,96.68 L1089.0,96.70 L1091.0,96.68 L1093.0,96.60 L1095.0,96.48 L1097.0,96.35 L1099.0,96.23 L1101.0,96.14 L1103.0,96.10 L1105.0,96.11 L1107.0,96.16 L1109.0,96.23 L1111.0,96.32 L1113.0,96.43 L1115.0,96.56 L1117.0,96.69 L1119.0,96.88 L1121.0,97.17 L1123.0,97.52 L1125.0,97.93 L1127.0,98.36 L1129.0,98.79 L1131.0,99.20 L1133.0,99.63 L1135.0,100.12 L1137.0,100.64 L1139.0,101.14 L1141.0,101.59 L1143.0,101.96 L1145.0,102.20 L1147.0,102.33 L1149.0,102.43 L1151.0,102.60 L1153.0,102.89 L1155.0,103.28 L1157.0,103.73 L1159.0,104.24 L1161.0,104.76 L1163.0,105.28 L1165.0,105.77 L1167.0,106.27 L1169.0,106.78 L1171.0,107.32 L1173.0,107.89 L1175.0,108.51 L1177.0,109.18 L1179.0,109.93 L1181.0,110.85 L1183.0,111.88 L1185.0,112.99 L1187.0,114.12 L1189.0,115.21 L1191.0,116.23 L1193.0,117.13 L1195.0,118.00 L1197.0,118.84 L1199.0,119.65 L1201.0,120.44 L1203.0,121.20 L1205.0,121.94 L1207.0,122.68 L1209.0,123.44 L1211.0,124.20 L1213.0,124.93 L1215.0,125.61 L1217.0,126.20 L1219.0,126.68 L1221.0,127.05 L1223.0,127.39 L1225.0,127.70 L1227.0,127.98 L1229.0,128.24 L1231.0,128.48 L1233.0,128.70 L1235.0,128.90 L1237.0,129.09 L1239.0,129.27 L1241.0,129.44 L1243.0,129.60 L1245.0,129.74 L1247.0,129.87 L1249.0,129.99 L1251.0,130.11 L1253.0,130.23 L1255.0,130.36 L1257.0,130.49 L1259.0,130.61 L1261.0,130.72 L1263.0,130.83 L1265.0,130.94 L1267.0,131.08 L1269.0,131.25 L1271.0,131.47 L1273.0,131.88 L1275.0,132.61 L1277.0,133.57 L1279.0,134.68 L1281.0,135.86 L1283.0,137.26 L1285.0,138.96 L1287.0,140.83 L1289.0,142.72 L1291.0,144.67 L1293.0,146.81 L1295.0,149.04 L1297.0,151.23 L1299.0,153.26 L1301.0,155.01 L1303.0,156.39 L1305.0,157.54 L1307.0,158.57 L1309.0,159.57 L1311.0,160.62 L1313.0,161.64 L1315.0,162.68 L1317.0,163.84 L1319.0,165.15 L1321.0,166.55 L1323.0,168.06 L1325.0,169.66 L1327.0,171.37 L1329.0,173.18 L1331.0,175.09 L1332.5,176.60" fill="none" stroke="#2196F3" stroke-width="1.2" stroke-linejoin="round" clip-path="url(#cp)"/>
<path d="M13.0,116.20 L15.0,117.81 L17.0,119.53 L19.0,121.31 L21.0,123.02 L23.0,124.55 L25.0,125.78 L27.0,126.59 L29.0,127.14 L31.0,127.57 L33.0,127.92 L35.0,128.25 L37.0,128.58 L39.0,128.97 L41.0,129.45 L43.0,129.95 L45.0,130.49 L47.0,131.06 L49.0,131.66 L51.0,132.30 L53.0,132.98 L55.0,133.72 L57.0,134.50 L59.0,135.39 L61.0,136.37 L63.0,137.42 L65.0,138.53 L67.0,139.70 L69.0,140.91 L71.0,142.14 L73.0,143.39 L75.0,144.69 L77.0,146.07 L79.0,147.51 L81.0,148.99 L83.0,150.50 L85.0,152.03 L87.0,153.55 L89.0,155.07 L91.0,156.70 L93.0,158.38 L95.0,160.05 L97.0,161.64 L99.0,163.07 L101.0,164.28 L103.0,165.40 L105.0,166.43 L107.0,167.33 L109.0,168.03 L111.0,168.51 L113.0,168.84 L115.0,169.14 L117.0,169.55 L119.0,170.25 L121.0,171.24 L123.0,172.23 L125.0,172.96 L127.0,173.59 L129.0,174.17 L131.0,174.71 L133.0,175.21 L135.0,175.68 L137.0,176.11 L139.0,176.50 L141.0,176.85 L143.0,177.12 L145.0,177.41 L147.0,177.82 L149.0,178.47 L151.0,179.34 L153.0,180.36 L155.0,181.47 L157.0,182.60 L159.0,183.68 L161.0,184.66 L163.0,185.48 L165.0,186.23 L167.0,186.93 L169.0,187.61 L171.0,188.28 L173.0,188.97 L175.0,189.69 L177.0,190.46 L179.0,191.29 L181.0,192.15 L183.0,193.04 L185.0,193.97 L187.0,194.91 L189.0,195.87 L191.0,196.85 L193.0,197.82 L195.0,198.80 L197.0,199.85 L199.0,200.99 L201.0,202.12 L203.0,203.13 L205.0,203.90 L207.0,204.45 L209.0,204.91 L211.0,205.31 L213.0,205.70 L215.0,206.14 L217.0,206.56 L219.0,206.90 L221.0,207.09 L223.0,207.10 L225.0,207.10 L227.0,207.10 L229.0,207.10 L231.0,207.08 L233.0,206.97 L235.0,206.80 L237.0,206.63 L239.0,206.52 L241.0,206.50 L243.0,206.52 L245.0,206.54 L247.0,206.57 L249.0,206.59 L251.0,206.60 L253.0,206.56 L255.0,206.47 L257.0,206.34 L259.0,206.18 L261.0,205.99 L263.0,205.78 L265.0,205.41 L267.0,204.93 L269.0,204.41 L271.0,203.93 L273.0,203.57 L275.0,203.38 L277.0,203.30 L279.0,203.25 L281.0,203.20 L283.0,203.09 L285.0,202.72 L287.0,202.02 L289.0,201.18 L291.0,200.31 L293.0,199.29 L295.0,198.12 L297.0,196.87 L299.0,195.59 L301.0,194.27 L303.0,192.87 L305.0,191.40 L307.0,189.90 L309.0,188.41 L311.0,186.96 L313.0,185.54 L315.0,184.14 L317.0,182.74 L319.0,181.35 L321.0,179.96 L323.0,178.58 L325.0,177.19 L327.0,175.82 L329.0,174.46 L331.0,173.10 L333.0,171.73 L335.0,170.32 L337.0,168.84 L339.0,167.24 L341.0,165.76 L343.0,164.52 L345.0,163.38 L347.0,162.31 L349.0,161.31 L351.0,160.35 L353.0,159.43 L355.0,158.53 L357.0,157.67 L359.0,156.85 L361.0,156.07 L363.0,155.31 L365.0,154.57 L367.0,153.83 L369.0,153.08 L371.0,152.30 L373.0,151.52 L375.0,150.75 L377.0,149.97 L379.0,149.18 L381.0,148.36 L383.0,147.49 L385.0,146.57 L387.0,145.59 L389.0,144.57 L391.0,143.52 L393.0,142.45 L395.0,141.36 L397.0,140.24 L399.0,139.09 L401.0,137.92 L403.0,136.75 L405.0,135.57 L407.0,134.41 L409.0,133.25 L411.0,132.07 L413.0,130.85 L415.0,129.63 L417.0,128.45 L419.0,127.33 L421.0,126.30 L423.0,125.39 L425.0,124.48 L427.0,123.63 L429.0,122.96 L431.0,122.56 L433.0,122.30 L435.0,122.09 L437.0,121.92 L439.0,121.82 L441.0,121.80 L443.0,121.80 L445.0,121.80 L447.0,121.80 L449.0,121.80 L451.0,121.80 L453.0,121.80 L455.0,121.82 L457.0,121.99 L459.0,122.27 L461.0,122.51 L463.0,122.60 L465.0,122.59 L467.0,122.56 L469.0,122.52 L471.0,122.33 L473.0,121.78 L475.0,121.32 L477.0,121.15 L479.0,121.01 L481.0,120.90 L483.0,120.83 L485.0,120.80 L487.0,120.83 L489.0,120.90 L491.0,121.00 L493.0,121.11 L495.0,121.20 L497.0,121.27 L499.0,121.30 L501.0,121.29 L503.0,121.25 L505.0,121.21 L507.0,121.16 L509.0,121.12 L511.0,121.08 L513.0,121.05 L515.0,121.01 L517.0,120.97 L519.0,120.93 L521.0,120.90 L523.0,120.87 L525.0,120.84 L527.0,120.82 L529.0,120.80 L531.0,120.80 L533.0,120.84 L535.0,120.94 L537.0,121.09 L539.0,121.27 L541.0,121.46 L543.0,121.66 L545.0,121.85 L547.0,122.01 L549.0,122.13 L551.0,122.19 L553.0,122.16 L555.0,121.94 L557.0,121.56 L559.0,121.09 L561.0,120.58 L563.0,120.08 L565.0,119.52 L567.0,118.87 L569.0,118.14 L571.0,117.38 L573.0,116.61 L575.0,115.86 L577.0,115.17 L579.0,114.46 L581.0,113.71 L583.0,112.97 L585.0,112.29 L587.0,111.73 L589.0,111.35 L591.0,111.12 L593.0,110.91 L595.0,110.72 L597.0,110.55 L599.0,110.40 L601.0,110.28 L603.0,110.19 L605.0,110.13 L607.0,110.10 L609.0,110.11 L611.0,110.16 L613.0,110.23 L615.0,110.34 L617.0,110.46 L619.0,110.61 L621.0,110.77 L623.0,110.97 L625.0,111.29 L627.0,111.69 L629.0,112.16 L631.0,112.68 L633.0,113.21 L635.0,113.88 L637.0,114.69 L639.0,115.54 L641.0,116.37 L643.0,117.09 L645.0,117.67 L647.0,118.23 L649.0,118.77 L651.0,119.26 L653.0,119.67 L655.0,119.98 L657.0,120.17 L659.0,120.32 L661.0,120.46 L663.0,120.58 L665.0,120.68 L667.0,120.75 L669.0,120.79 L671.0,120.80 L673.0,120.77 L675.0,120.72 L677.0,120.65 L679.0,120.59 L681.0,120.54 L683.0,120.51 L685.0,120.51 L687.0,120.57 L689.0,120.68 L691.0,120.83 L693.0,121.01 L695.0,121.20 L697.0,121.40 L699.0,121.60 L701.0,121.83 L703.0,122.10 L705.0,122.39 L707.0,122.71 L709.0,123.06 L711.0,123.42 L713.0,123.80 L715.0,124.24 L717.0,124.73 L719.0,125.26 L721.0,125.79 L723.0,126.31 L725.0,126.80 L727.0,127.25 L729.0,127.75 L731.0,128.27 L733.0,128.77 L735.0,129.20 L737.0,129.52 L739.0,129.69 L741.0,129.68 L743.0,129.56 L745.0,129.37 L747.0,129.11 L749.0,128.82 L751.0,128.50 L753.0,128.18 L755.0,127.87 L757.0,127.60 L759.0,127.38 L761.0,127.20 L763.0,127.03 L765.0,126.87 L767.0,126.71 L769.0,126.54 L771.0,126.34 L773.0,126.12 L775.0,125.85 L777.0,125.52 L779.0,125.02 L781.0,124.40 L783.0,123.70 L785.0,122.96 L787.0,122.20 L789.0,121.34 L791.0,120.41 L793.0,119.44 L795.0,118.46 L797.0,117.52 L799.0,116.64 L801.0,115.73 L803.0,114.92 L805.0,114.34 L807.0,113.90 L809.0,113.53 L811.0,113.17 L813.0,112.79 L815.0,112.32 L817.0,111.80 L819.0,111.28 L821.0,110.84 L823.0,110.51 L825.0,110.23 L827.0,109.99 L829.0,109.79 L831.0,109.64 L833.0,109.54 L835.0,109.46 L837.0,109.38 L839.0,109.27 L841.0,109.11 L843.0,108.82 L845.0,108.44 L847.0,107.99 L849.0,107.50 L851.0,107.00 L853.0,106.52 L855.0,106.10 L857.0,105.75 L859.0,105.45 L861.0,105.18 L863.0,104.96 L865.0,104.80 L867.0,104.65 L869.0,104.52 L871.0,104.40 L873.0,104.31 L875.0,104.23 L877.0,104.18 L879.0,104.14 L881.0,104.11 L883.0,104.09 L885.0,104.07 L887.0,104.05 L889.0,104.03 L891.0,104.01 L893.0,103.98 L895.0,103.95 L897.0,103.90 L899.0,103.83 L901.0,103.71 L903.0,103.56 L905.0,103.39 L907.0,103.22 L909.0,103.05 L911.0,102.90 L913.0,102.75 L915.0,102.59 L917.0,102.43 L919.0,102.30 L921.0,102.21 L923.0,102.21 L925.0,102.37 L927.0,102.64 L929.0,102.98 L931.0,103.35 L933.0,103.69 L935.0,104.10 L937.0,104.56 L939.0,105.04 L941.0,105.54 L943.0,106.03 L945.0,106.50 L947.0,106.96 L949.0,107.47 L951.0,107.91 L953.0,108.11 L955.0,108.14 L957.0,108.16 L959.0,108.18 L961.0,108.22 L963.0,108.29 L965.0,108.38 L967.0,108.49 L969.0,108.60 L971.0,108.70 L973.0,108.79 L975.0,108.86 L977.0,108.90 L979.0,108.89 L981.0,108.83 L983.0,108.72 L985.0,108.57 L987.0,108.39 L989.0,108.20 L991.0,107.90 L993.0,107.42 L995.0,106.82 L997.0,106.14 L999.0,105.42 L1001.0,104.72 L1003.0,104.08 L1005.0,103.55 L1007.0,103.14 L1009.0,102.74 L1011.0,102.37 L1013.0,102.05 L1015.0,101.78 L1017.0,101.59 L1019.0,101.47 L1021.0,101.38 L1023.0,101.31 L1025.0,101.24 L1027.0,101.18 L1029.0,101.09 L1031.0,100.98 L1033.0,100.82 L1035.0,100.47 L1037.0,99.96 L1039.0,99.35 L1041.0,98.71 L1043.0,98.09 L1045.0,97.55 L1047.0,97.17 L1049.0,96.94 L1051.0,96.76 L1053.0,96.61 L1055.0,96.47 L1057.0,96.35 L1059.0,96.20 L1061.0,96.04 L1063.0,95.84 L1065.0,95.62 L1067.0,95.39 L1069.0,95.15 L1071.0,94.89 L1073.0,94.62 L1075.0,94.34 L1077.0,94.06 L1079.0,93.77 L1081.0,93.48 L1083.0,93.17 L1085.0,92.84 L1087.0,92.50 L1089.0,92.13 L1091.0,91.73 L1093.0,91.27 L1095.0,90.59 L1097.0,89.87 L1099.0,89.33 L1101.0,89.20 L1103.0,89.20 L1105.0,89.20 L1107.0,89.20 L1109.0,89.20 L1111.0,89.19 L1113.0,89.14 L1115.0,89.04 L1117.0,88.92 L1119.0,88.81 L1121.0,88.73 L1123.0,88.70 L1125.0,88.76 L1127.0,88.91 L1129.0,89.13 L1131.0,89.41 L1133.0,89.73 L1135.0,90.09 L1137.0,90.48 L1139.0,91.09 L1141.0,91.92 L1143.0,92.89 L1145.0,93.90 L1147.0,94.85 L1149.0,95.70 L1151.0,96.54 L1153.0,97.38 L1155.0,98.19 L1157.0,98.98 L1159.0,99.74 L1161.0,100.45 L1163.0,101.12 L1165.0,101.77 L1167.0,102.41 L1169.0,103.05 L1171.0,103.70 L1173.0,104.37 L1175.0,105.01 L1177.0,105.62 L1179.0,106.28 L1181.0,107.05 L1183.0,108.03 L1185.0,109.42 L1187.0,111.11 L1189.0,112.96 L1191.0,114.84 L1193.0,116.60 L1195.0,118.09 L1197.0,119.24 L1199.0,120.24 L1201.0,121.15 L1203.0,122.00 L1205.0,122.79 L1207.0,123.55 L1209.0,124.27 L1211.0,124.99 L1213.0,125.71 L1215.0,126.42 L1217.0,127.11 L1219.0,127.79 L1221.0,128.45 L1223.0,129.09 L1225.0,129.72 L1227.0,130.33 L1229.0,130.94 L1231.0,131.54 L1233.0,132.12 L1235.0,132.70 L1237.0,133.27 L1239.0,133.82 L1241.0,134.36 L1243.0,134.89 L1245.0,135.42 L1247.0,135.94 L1249.0,136.46 L1251.0,136.98 L1253.0,137.47 L1255.0,137.93 L1257.0,138.39 L1259.0,138.85 L1261.0,139.32 L1263.0,139.83 L1265.0,140.39 L1267.0,141.00 L1269.0,141.68 L1271.0,142.43 L1273.0,143.25 L1275.0,144.13 L1277.0,145.08 L1279.0,146.09 L1281.0,147.17 L1283.0,148.32 L1285.0,149.64 L1287.0,151.14 L1289.0,152.77 L1291.0,154.48 L1293.0,156.25 L1295.0,158.02 L1297.0,159.75 L1299.0,161.41 L1301.0,162.95 L1303.0,164.42 L1305.0,165.86 L1307.0,167.27 L1309.0,168.66 L1311.0,170.05 L1313.0,171.45 L1315.0,172.87 L1317.0,174.33 L1319.0,175.81 L1321.0,177.31 L1323.0,178.82 L1325.0,180.35 L1327.0,181.89 L1329.0,183.45 L1331.0,185.02 L1332.5,186.20" fill="none" stroke="#FF6D00" stroke-width="1.2" stroke-linejoin="round" clip-path="url(#cp)"/>
<g shape-rendering="crispEdges" clip-path="url(#cp)"><rect x="12" y="158" width="1" height="4" fill="#F23645"/><rect x="10" y="158" width="5" height="4" fill="#F23645"/><rect x="19" y="156" width="1" height="17" fill="#F23645"/><rect x="17" y="161" width="5" height="7" fill="#F23645"/><rect x="27" y="168" width="1" height="22" fill="#F23645"/><rect x="25" y="168" width="5" height="16" fill="#F23645"/><rect x="34" y="117" width="1" height="70" fill="#089981"/><rect x="32" y="138" width="5" height="46" fill="#089981"/><rect x="42" y="113" width="1" height="41" fill="#089981"/><rect x="40" y="114" width="5" height="25" fill="#089981"/><rect x="49" y="109" width="1" height="34" fill="#F23645"/><rect x="47" y="114" width="5" height="18" fill="#F23645"/><rect x="57" y="121" width="1" height="26" fill="#F23645"/><rect x="55" y="131" width="5" height="3" fill="#F23645"/><rect x="64" y="130" width="1" height="31" fill="#F23645"/><rect x="62" y="134" width="5" height="25" fill="#F23645"/><rect x="72" y="147" width="1" height="23" fill="#F23645"/><rect x="70" y="158" width="5" height="7" fill="#F23645"/><rect x="79" y="158" width="1" height="24" fill="#F23645"/><rect x="77" y="164" width="5" height="16" fill="#F23645"/><rect x="87" y="173" width="1" height="19" fill="#F23645"/><rect x="85" y="179" width="5" height="13" fill="#F23645"/><rect x="94" y="179" width="1" height="14" fill="#089981"/><rect x="92" y="183" width="5" height="9" fill="#089981"/><rect x="102" y="181" width="1" height="30" fill="#F23645"/><rect x="100" y="183" width="5" height="28" fill="#F23645"/><rect x="109" y="186" width="1" height="28" fill="#089981"/><rect x="107" y="208" width="5" height="3" fill="#089981"/><rect x="117" y="205" width="1" height="40" fill="#F23645"/><rect x="115" y="208" width="5" height="3" fill="#F23645"/><rect x="124" y="201" width="1" height="30" fill="#F23645"/><rect x="122" y="210" width="5" height="21" fill="#F23645"/><rect x="132" y="189" width="1" height="42" fill="#089981"/><rect x="130" y="194" width="5" height="37" fill="#089981"/><rect x="139" y="188" width="1" height="33" fill="#F23645"/><rect x="137" y="195" width="5" height="24" fill="#F23645"/><rect x="147" y="208" width="1" height="18" fill="#089981"/><rect x="145" y="218" width="5" height="1" fill="#089981"/><rect x="154" y="204" width="1" height="29" fill="#F23645"/><rect x="152" y="218" width="5" height="11" fill="#F23645"/><rect x="162" y="220" width="1" height="25" fill="#F23645"/><rect x="160" y="227" width="5" height="16" fill="#F23645"/><rect x="169" y="213" width="1" height="36" fill="#089981"/><rect x="167" y="223" width="5" height="20" fill="#089981"/><rect x="177" y="219" width="1" height="22" fill="#F23645"/><rect x="175" y="223" width="5" height="12" fill="#F23645"/><rect x="184" y="201" width="1" height="34" fill="#089981"/><rect x="182" y="203" width="5" height="32" fill="#089981"/><rect x="192" y="194" width="1" height="19" fill="#089981"/><rect x="190" y="203" width="5" height="1" fill="#089981"/><rect x="199" y="194" width="1" height="22" fill="#089981"/><rect x="197" y="197" width="5" height="7" fill="#089981"/><rect x="207" y="190" width="1" height="12" fill="#F23645"/><rect x="205" y="197" width="5" height="1" fill="#F23645"/><rect x="214" y="177" width="1" height="22" fill="#089981"/><rect x="212" y="179" width="5" height="20" fill="#089981"/><rect x="222" y="177" width="1" height="27" fill="#F23645"/><rect x="220" y="179" width="5" height="15" fill="#F23645"/><rect x="229" y="167" width="1" height="33" fill="#089981"/><rect x="227" y="179" width="5" height="16" fill="#089981"/><rect x="237" y="173" width="1" height="15" fill="#F23645"/><rect x="235" y="179" width="5" height="7" fill="#F23645"/><rect x="244" y="168" width="1" height="20" fill="#F23645"/><rect x="242" y="185" width="5" height="1" fill="#F23645"/><rect x="252" y="168" width="1" height="43" fill="#F23645"/><rect x="250" y="185" width="5" height="22" fill="#F23645"/><rect x="259" y="192" width="1" height="25" fill="#089981"/><rect x="257" y="193" width="5" height="14" fill="#089981"/><rect x="267" y="174" width="1" height="24" fill="#089981"/><rect x="265" y="192" width="5" height="1" fill="#089981"/><rect x="274" y="179" width="1" height="24" fill="#F23645"/><rect x="272" y="192" width="5" height="8" fill="#F23645"/><rect x="282" y="187" width="1" height="20" fill="#089981"/><rect x="280" y="197" width="5" height="3" fill="#089981"/><rect x="289" y="159" width="1" height="39" fill="#089981"/><rect x="287" y="160" width="5" height="38" fill="#089981"/><rect x="297" y="141" width="1" height="31" fill="#089981"/><rect x="295" y="142" width="5" height="19" fill="#089981"/><rect x="304" y="125" width="1" height="21" fill="#089981"/><rect x="302" y="133" width="5" height="10" fill="#089981"/><rect x="312" y="113" width="1" height="23" fill="#089981"/><rect x="310" y="122" width="5" height="12" fill="#089981"/><rect x="319" y="110" width="1" height="16" fill="#089981"/><rect x="317" y="122" width="5" height="1" fill="#089981"/><rect x="327" y="116" width="1" height="32" fill="#F23645"/><rect x="325" y="122" width="5" height="20" fill="#F23645"/><rect x="334" y="91" width="1" height="59" fill="#089981"/><rect x="332" y="96" width="5" height="46" fill="#089981"/><rect x="342" y="92" width="1" height="21" fill="#F23645"/><rect x="340" y="96" width="5" height="13" fill="#F23645"/><rect x="349" y="104" width="1" height="12" fill="#F23645"/><rect x="347" y="108" width="5" height="6" fill="#F23645"/><rect x="357" y="85" width="1" height="37" fill="#F23645"/><rect x="355" y="113" width="5" height="9" fill="#F23645"/><rect x="364" y="110" width="1" height="24" fill="#F23645"/><rect x="362" y="121" width="5" height="8" fill="#F23645"/><rect x="372" y="108" width="1" height="35" fill="#F23645"/><rect x="370" y="128" width="5" height="8" fill="#F23645"/><rect x="379" y="110" width="1" height="31" fill="#089981"/><rect x="377" y="112" width="5" height="24" fill="#089981"/><rect x="387" y="99" width="1" height="19" fill="#F23645"/><rect x="385" y="112" width="5" height="3" fill="#F23645"/><rect x="394" y="108" width="1" height="15" fill="#F23645"/><rect x="392" y="114" width="5" height="4" fill="#F23645"/><rect x="402" y="108" width="1" height="14" fill="#089981"/><rect x="400" y="109" width="5" height="9" fill="#089981"/><rect x="409" y="104" width="1" height="15" fill="#F23645"/><rect x="407" y="109" width="5" height="6" fill="#F23645"/><rect x="417" y="109" width="1" height="13" fill="#F23645"/><rect x="415" y="114" width="5" height="5" fill="#F23645"/><rect x="424" y="109" width="1" height="11" fill="#089981"/><rect x="422" y="113" width="5" height="6" fill="#089981"/><rect x="432" y="107" width="1" height="29" fill="#F23645"/><rect x="430" y="113" width="5" height="23" fill="#F23645"/><rect x="439" y="132" width="1" height="17" fill="#F23645"/><rect x="437" y="135" width="5" height="14" fill="#F23645"/><rect x="447" y="134" width="1" height="23" fill="#089981"/><rect x="445" y="137" width="5" height="12" fill="#089981"/><rect x="454" y="129" width="1" height="18" fill="#089981"/><rect x="452" y="132" width="5" height="6" fill="#089981"/><rect x="462" y="125" width="1" height="21" fill="#F23645"/><rect x="460" y="132" width="5" height="7" fill="#F23645"/><rect x="469" y="124" width="1" height="17" fill="#089981"/><rect x="467" y="126" width="5" height="13" fill="#089981"/><rect x="477" y="101" width="1" height="34" fill="#089981"/><rect x="475" y="102" width="5" height="25" fill="#089981"/><rect x="484" y="100" width="1" height="38" fill="#F23645"/><rect x="482" y="101" width="5" height="9" fill="#F23645"/><rect x="492" y="94" width="1" height="19" fill="#089981"/><rect x="490" y="95" width="5" height="15" fill="#089981"/><rect x="499" y="90" width="1" height="36" fill="#F23645"/><rect x="497" y="95" width="5" height="27" fill="#F23645"/><rect x="507" y="113" width="1" height="15" fill="#F23645"/><rect x="505" y="121" width="5" height="7" fill="#F23645"/><rect x="514" y="122" width="1" height="18" fill="#089981"/><rect x="512" y="125" width="5" height="3" fill="#089981"/><rect x="522" y="123" width="1" height="16" fill="#089981"/><rect x="520" y="124" width="5" height="2" fill="#089981"/><rect x="529" y="113" width="1" height="17" fill="#089981"/><rect x="527" y="122" width="5" height="3" fill="#089981"/><rect x="537" y="117" width="1" height="15" fill="#F23645"/><rect x="535" y="122" width="5" height="7" fill="#F23645"/><rect x="544" y="110" width="1" height="32" fill="#089981"/><rect x="542" y="118" width="5" height="14" fill="#089981"/><rect x="552" y="107" width="1" height="16" fill="#089981"/><rect x="550" y="112" width="5" height="7" fill="#089981"/><rect x="559" y="101" width="1" height="15" fill="#089981"/><rect x="557" y="101" width="5" height="13" fill="#089981"/><rect x="567" y="79" width="1" height="24" fill="#089981"/><rect x="565" y="82" width="5" height="20" fill="#089981"/><rect x="574" y="44" width="1" height="39" fill="#089981"/><rect x="572" y="63" width="5" height="20" fill="#089981"/><rect x="582" y="50" width="1" height="31" fill="#F23645"/><rect x="580" y="62" width="5" height="14" fill="#F23645"/><rect x="589" y="63" width="1" height="31" fill="#F23645"/><rect x="587" y="75" width="5" height="18" fill="#F23645"/><rect x="597" y="81" width="1" height="61" fill="#F23645"/><rect x="595" y="92" width="5" height="38" fill="#F23645"/><rect x="604" y="115" width="1" height="19" fill="#089981"/><rect x="602" y="121" width="5" height="9" fill="#089981"/><rect x="612" y="115" width="1" height="28" fill="#F23645"/><rect x="610" y="121" width="5" height="15" fill="#F23645"/><rect x="619" y="124" width="1" height="24" fill="#F23645"/><rect x="617" y="137" width="5" height="1" fill="#F23645"/><rect x="627" y="123" width="1" height="19" fill="#089981"/><rect x="625" y="124" width="5" height="14" fill="#089981"/><rect x="634" y="122" width="1" height="30" fill="#F23645"/><rect x="632" y="124" width="5" height="21" fill="#F23645"/><rect x="642" y="141" width="1" height="20" fill="#F23645"/><rect x="640" y="144" width="5" height="17" fill="#F23645"/><rect x="649" y="146" width="1" height="23" fill="#F23645"/><rect x="647" y="159" width="5" height="5" fill="#F23645"/><rect x="657" y="133" width="1" height="41" fill="#089981"/><rect x="655" y="150" width="5" height="11" fill="#089981"/><rect x="664" y="138" width="1" height="26" fill="#089981"/><rect x="662" y="138" width="5" height="13" fill="#089981"/><rect x="672" y="132" width="1" height="16" fill="#089981"/><rect x="670" y="133" width="5" height="6" fill="#089981"/><rect x="679" y="107" width="1" height="30" fill="#089981"/><rect x="677" y="118" width="5" height="16" fill="#089981"/><rect x="687" y="108" width="1" height="16" fill="#F23645"/><rect x="685" y="118" width="5" height="1" fill="#F23645"/><rect x="694" y="116" width="1" height="19" fill="#F23645"/><rect x="692" y="118" width="5" height="11" fill="#F23645"/><rect x="702" y="124" width="1" height="13" fill="#F23645"/><rect x="700" y="128" width="5" height="5" fill="#F23645"/><rect x="709" y="123" width="1" height="18" fill="#F23645"/><rect x="707" y="132" width="5" height="7" fill="#F23645"/><rect x="717" y="96" width="1" height="44" fill="#089981"/><rect x="715" y="98" width="5" height="41" fill="#089981"/><rect x="724" y="93" width="1" height="18" fill="#F23645"/><rect x="722" y="99" width="5" height="12" fill="#F23645"/><rect x="732" y="92" width="1" height="25" fill="#089981"/><rect x="730" y="106" width="5" height="4" fill="#089981"/><rect x="739" y="102" width="1" height="16" fill="#F23645"/><rect x="737" y="106" width="5" height="6" fill="#F23645"/><rect x="747" y="107" width="1" height="9" fill="#089981"/><rect x="745" y="108" width="5" height="4" fill="#089981"/><rect x="754" y="105" width="1" height="16" fill="#089981"/><rect x="752" y="106" width="5" height="11" fill="#089981"/><rect x="762" y="102" width="1" height="26" fill="#F23645"/><rect x="760" y="106" width="5" height="17" fill="#F23645"/><rect x="769" y="111" width="1" height="23" fill="#F23645"/><rect x="767" y="122" width="5" height="1" fill="#F23645"/><rect x="777" y="103" width="1" height="23" fill="#089981"/><rect x="775" y="106" width="5" height="18" fill="#089981"/><rect x="784" y="106" width="1" height="2" fill="#F23645"/><rect x="782" y="106" width="5" height="1" fill="#F23645"/><rect x="792" y="91" width="1" height="26" fill="#089981"/><rect x="790" y="92" width="5" height="14" fill="#089981"/><rect x="800" y="86" width="1" height="14" fill="#F23645"/><rect x="798" y="91" width="5" height="4" fill="#F23645"/><rect x="807" y="92" width="1" height="15" fill="#F23645"/><rect x="805" y="101" width="5" height="3" fill="#F23645"/><rect x="815" y="100" width="1" height="16" fill="#F23645"/><rect x="813" y="103" width="5" height="6" fill="#F23645"/><rect x="822" y="94" width="1" height="24" fill="#089981"/><rect x="820" y="95" width="5" height="14" fill="#089981"/><rect x="830" y="93" width="1" height="13" fill="#F23645"/><rect x="828" y="95" width="5" height="9" fill="#F23645"/><rect x="837" y="91" width="1" height="18" fill="#F23645"/><rect x="835" y="103" width="5" height="5" fill="#F23645"/><rect x="845" y="94" width="1" height="21" fill="#089981"/><rect x="843" y="102" width="5" height="4" fill="#089981"/><rect x="852" y="102" width="1" height="26" fill="#F23645"/><rect x="850" y="102" width="5" height="10" fill="#F23645"/><rect x="860" y="90" width="1" height="29" fill="#089981"/><rect x="858" y="94" width="5" height="18" fill="#089981"/><rect x="867" y="85" width="1" height="22" fill="#F23645"/><rect x="865" y="94" width="5" height="5" fill="#F23645"/><rect x="875" y="85" width="1" height="19" fill="#089981"/><rect x="873" y="91" width="5" height="8" fill="#089981"/><rect x="882" y="88" width="1" height="24" fill="#F23645"/><rect x="880" y="93" width="5" height="18" fill="#F23645"/><rect x="890" y="102" width="1" height="17" fill="#089981"/><rect x="888" y="109" width="5" height="1" fill="#089981"/><rect x="897" y="94" width="1" height="22" fill="#089981"/><rect x="895" y="100" width="5" height="10" fill="#089981"/><rect x="905" y="96" width="1" height="11" fill="#089981"/><rect x="903" y="99" width="5" height="1" fill="#089981"/><rect x="912" y="98" width="1" height="15" fill="#F23645"/><rect x="910" y="99" width="5" height="13" fill="#F23645"/><rect x="920" y="102" width="1" height="26" fill="#F23645"/><rect x="918" y="108" width="5" height="3" fill="#F23645"/><rect x="927" y="105" width="1" height="19" fill="#F23645"/><rect x="925" y="110" width="5" height="12" fill="#F23645"/><rect x="935" y="117" width="1" height="18" fill="#F23645"/><rect x="933" y="121" width="5" height="10" fill="#F23645"/><rect x="942" y="121" width="1" height="14" fill="#089981"/><rect x="940" y="125" width="5" height="6" fill="#089981"/><rect x="950" y="120" width="1" height="14" fill="#F23645"/><rect x="948" y="125" width="5" height="7" fill="#F23645"/><rect x="957" y="108" width="1" height="25" fill="#089981"/><rect x="955" y="110" width="5" height="19" fill="#089981"/><rect x="965" y="97" width="1" height="19" fill="#089981"/><rect x="963" y="98" width="5" height="13" fill="#089981"/><rect x="972" y="97" width="1" height="21" fill="#F23645"/><rect x="970" y="98" width="5" height="15" fill="#F23645"/><rect x="980" y="98" width="1" height="18" fill="#089981"/><rect x="978" y="101" width="5" height="12" fill="#089981"/><rect x="987" y="90" width="1" height="19" fill="#089981"/><rect x="985" y="95" width="5" height="7" fill="#089981"/><rect x="995" y="71" width="1" height="39" fill="#089981"/><rect x="993" y="72" width="5" height="25" fill="#089981"/><rect x="1002" y="67" width="1" height="12" fill="#089981"/><rect x="1000" y="70" width="5" height="3" fill="#089981"/><rect x="1010" y="63" width="1" height="14" fill="#089981"/><rect x="1008" y="70" width="5" height="1" fill="#089981"/><rect x="1017" y="66" width="1" height="12" fill="#089981"/><rect x="1015" y="69" width="5" height="1" fill="#089981"/><rect x="1025" y="65" width="1" height="32" fill="#F23645"/><rect x="1023" y="69" width="5" height="27" fill="#F23645"/><rect x="1032" y="85" width="1" height="14" fill="#F23645"/><rect x="1030" y="93" width="5" height="3" fill="#F23645"/><rect x="1040" y="63" width="1" height="37" fill="#089981"/><rect x="1038" y="66" width="5" height="30" fill="#089981"/><rect x="1047" y="47" width="1" height="37" fill="#F23645"/><rect x="1045" y="66" width="5" height="5" fill="#F23645"/><rect x="1055" y="67" width="1" height="21" fill="#F23645"/><rect x="1053" y="70" width="5" height="13" fill="#F23645"/><rect x="1062" y="80" width="1" height="22" fill="#F23645"/><rect x="1060" y="82" width="5" height="20" fill="#F23645"/><rect x="1070" y="92" width="1" height="13" fill="#089981"/><rect x="1068" y="101" width="5" height="1" fill="#089981"/><rect x="1077" y="91" width="1" height="13" fill="#089981"/><rect x="1075" y="95" width="5" height="7" fill="#089981"/><rect x="1085" y="92" width="1" height="14" fill="#F23645"/><rect x="1083" y="94" width="5" height="12" fill="#F23645"/><rect x="1092" y="93" width="1" height="13" fill="#089981"/><rect x="1090" y="102" width="5" height="4" fill="#089981"/><rect x="1100" y="86" width="1" height="18" fill="#089981"/><rect x="1098" y="91" width="5" height="12" fill="#089981"/><rect x="1107" y="82" width="1" height="20" fill="#F23645"/><rect x="1105" y="89" width="5" height="10" fill="#F23645"/><rect x="1115" y="91" width="1" height="25" fill="#F23645"/><rect x="1113" y="98" width="5" height="8" fill="#F23645"/><rect x="1122" y="96" width="1" height="18" fill="#089981"/><rect x="1120" y="105" width="5" height="1" fill="#089981"/><rect x="1130" y="103" width="1" height="18" fill="#F23645"/><rect x="1128" y="105" width="5" height="13" fill="#F23645"/><rect x="1137" y="110" width="1" height="25" fill="#089981"/><rect x="1135" y="115" width="5" height="3" fill="#089981"/><rect x="1145" y="110" width="1" height="26" fill="#F23645"/><rect x="1143" y="116" width="5" height="15" fill="#F23645"/><rect x="1152" y="119" width="1" height="18" fill="#089981"/><rect x="1150" y="129" width="5" height="1" fill="#089981"/><rect x="1160" y="122" width="1" height="13" fill="#089981"/><rect x="1158" y="122" width="5" height="8" fill="#089981"/><rect x="1167" y="120" width="1" height="13" fill="#F23645"/><rect x="1165" y="123" width="5" height="1" fill="#F23645"/><rect x="1175" y="122" width="1" height="18" fill="#F23645"/><rect x="1173" y="123" width="5" height="16" fill="#F23645"/><rect x="1182" y="133" width="1" height="27" fill="#F23645"/><rect x="1180" y="138" width="5" height="17" fill="#F23645"/><rect x="1190" y="151" width="1" height="25" fill="#F23645"/><rect x="1188" y="155" width="5" height="21" fill="#F23645"/><rect x="1197" y="165" width="1" height="11" fill="#089981"/><rect x="1195" y="174" width="5" height="1" fill="#089981"/><rect x="1205" y="158" width="1" height="26" fill="#089981"/><rect x="1203" y="168" width="5" height="7" fill="#089981"/><rect x="1212" y="164" width="1" height="20" fill="#F23645"/><rect x="1210" y="166" width="5" height="1" fill="#F23645"/><rect x="1220" y="145" width="1" height="30" fill="#089981"/><rect x="1218" y="153" width="5" height="14" fill="#089981"/><rect x="1227" y="137" width="1" height="17" fill="#089981"/><rect x="1225" y="141" width="5" height="13" fill="#089981"/><rect x="1235" y="137" width="1" height="15" fill="#089981"/><rect x="1233" y="142" width="5" height="1" fill="#089981"/><rect x="1242" y="138" width="1" height="20" fill="#F23645"/><rect x="1240" y="141" width="5" height="7" fill="#F23645"/><rect x="1250" y="132" width="1" height="19" fill="#089981"/><rect x="1248" y="140" width="5" height="9" fill="#089981"/><rect x="1257" y="126" width="1" height="19" fill="#089981"/><rect x="1255" y="136" width="5" height="3" fill="#089981"/><rect x="1265" y="122" width="1" height="19" fill="#089981"/><rect x="1263" y="132" width="5" height="7" fill="#089981"/><rect x="1272" y="128" width="1" height="62" fill="#F23645"/><rect x="1270" y="132" width="5" height="24" fill="#F23645"/><rect x="1280" y="135" width="1" height="52" fill="#F23645"/><rect x="1278" y="136" width="5" height="43" fill="#F23645"/><rect x="1287" y="173" width="1" height="84" fill="#F23645"/><rect x="1285" y="179" width="5" height="67" fill="#F23645"/><rect x="1295" y="207" width="1" height="85" fill="#089981"/><rect x="1293" y="241" width="5" height="2" fill="#089981"/><rect x="1302" y="221" width="1" height="53" fill="#F23645"/><rect x="1300" y="238" width="5" height="25" fill="#F23645"/><rect x="1310" y="161" width="1" height="107" fill="#089981"/><rect x="1308" y="227" width="5" height="28" fill="#089981"/><rect x="1317" y="186" width="1" height="51" fill="#F23645"/><rect x="1315" y="190" width="5" height="31" fill="#F23645"/><rect x="1325" y="210" width="1" height="89" fill="#F23645"/><rect x="1323" y="223" width="5" height="41" fill="#F23645"/><rect x="1332" y="229" width="1" height="45" fill="#089981"/><rect x="1330" y="258" width="5" height="6" fill="#089981"/></g>
<line x1="13" x2="1561" y1="342.5" y2="342.5" stroke="#787B86" stroke-width="1" stroke-dasharray="5 6" shape-rendering="crispEdges" clip-path="url(#cr)"/>
<line x1="13" x2="1561" y1="393.5" y2="393.5" stroke="#787B86" stroke-width="1" stroke-dasharray="5 6" shape-rendering="crispEdges" clip-path="url(#cr)"/>
<line x1="13" x2="1561" y1="445.5" y2="445.5" stroke="#787B86" stroke-width="1" stroke-dasharray="5 6" shape-rendering="crispEdges" clip-path="url(#cr)"/>
<path d="M12.5,406.2 L19.4,409.8 L26.9,416.8 L34.4,390.2 L42.0,378.6 L49.5,387.5 L57.0,389.1 L64.5,401.6 L72.0,405.4 L79.5,412.5 L87.0,418.6 L94.5,413.3 L102.0,425.6 L109.5,424.7 L117.0,425.3 L124.5,434.9 L132.0,408.1 L139.5,419.5 L147.0,419.5 L154.5,424.2 L162.0,430.9 L169.5,415.6 L177.0,421.2 L184.5,400.5 L192.0,400.2 L199.5,396.7 L207.0,397.0 L214.5,384.0 L222.0,394.4 L229.6,384.7 L237.1,388.4 L244.6,388.8 L252.1,404.2 L259.6,394.4 L267.1,393.7 L274.6,398.9 L282.1,396.7 L289.6,368.9 L297.1,359.8 L304.6,355.1 L312.1,349.6 L319.6,349.6 L327.1,368.6 L334.6,346.3 L342.1,356.0 L349.6,361.1 L357.1,367.2 L364.6,373.5 L372.1,379.5 L379.6,365.4 L387.1,366.8 L394.6,369.8 L402.1,364.2 L409.6,368.9 L417.2,373.9 L424.7,370.0 L432.2,391.8 L439.7,401.9 L447.2,392.6 L454.7,388.2 L462.2,394.0 L469.7,383.2 L477.2,365.6 L484.7,372.5 L492.2,363.0 L499.7,387.0 L507.2,391.4 L514.7,390.2 L522.2,388.8 L529.7,387.4 L537.2,394.0 L544.7,384.0 L552.2,378.8 L559.7,369.5 L567.2,355.4 L574.7,343.7 L582.2,358.1 L589.7,376.0 L597.2,404.2 L604.8,398.4 L612.3,408.1 L619.8,409.8 L627.3,398.4 L634.8,412.5 L642.3,421.6 L649.8,423.5 L657.3,411.6 L664.8,401.1 L672.3,397.5 L679.8,385.3 L687.3,385.3 L694.8,394.6 L702.3,397.5 L709.8,402.3 L717.3,371.2 L724.8,380.9 L732.3,378.6 L739.8,383.0 L747.3,380.5 L754.8,378.6 L762.3,394.9 L769.8,395.4 L777.3,379.6 L784.8,379.6 L792.4,367.7 L799.9,370.7 L807.4,381.2 L814.9,386.5 L822.4,374.2 L829.9,384.0 L837.4,387.9 L844.9,383.0 L852.4,393.2 L859.9,376.5 L867.4,381.4 L874.9,375.1 L882.4,395.4 L889.9,395.3 L897.4,384.9 L904.9,384.4 L912.4,398.1 L919.9,397.2 L927.4,409.3 L934.9,417.2 L942.4,410.7 L949.9,416.8 L957.4,390.5 L964.9,378.8 L972.4,393.5 L980.0,382.6 L987.5,377.7 L995.0,358.9 L1002.5,357.5 L1010.0,357.2 L1017.5,356.8 L1025.0,388.8 L1032.5,388.8 L1040.0,363.9 L1047.5,368.6 L1055.0,381.8 L1062.5,399.3 L1070.0,399.3 L1077.5,393.2 L1085.0,402.8 L1092.5,399.8 L1100.0,388.8 L1107.5,395.4 L1115.0,402.8 L1122.5,402.8 L1130.0,415.1 L1137.5,412.0 L1145.0,425.3 L1152.5,424.1 L1160.0,414.8 L1167.6,416.5 L1175.1,429.7 L1182.6,442.0 L1190.1,455.1 L1197.6,454.2 L1205.1,443.4 L1212.6,441.1 L1220.1,420.9 L1227.6,406.4 L1235.1,407.2 L1242.6,412.1 L1250.1,402.8 L1257.6,398.1 L1265.1,392.0 L1272.6,417.4 L1280.1,436.7 L1287.6,466.2 L1295.1,461.6 L1302.6,467.9 L1310.1,434.1 L1317.6,428.5 L1325.1,446.0 L1332.6,442.5" fill="none" stroke="#7E57C2" stroke-width="1.2" stroke-linejoin="round" clip-path="url(#cr)"/>
<g shape-rendering="crispEdges" clip-path="url(#cm)"><rect x="9" y="547" width="6" height="27" fill="#FFCDD2"/><rect x="16" y="547" width="7" height="23" fill="#FFCDD2"/><rect x="24" y="547" width="6" height="23" fill="#FFCDD2"/><rect x="31" y="547" width="7" height="14" fill="#FFCDD2"/><rect x="39" y="547" width="6" height="5" fill="#FFCDD2"/><rect x="46" y="547" width="7" height="1" fill="#26A69A"/><rect x="54" y="545" width="6" height="3" fill="#26A69A"/><rect x="61" y="547" width="7" height="1" fill="#B2DFDB"/><rect x="69" y="547" width="6" height="4" fill="#FF5252"/><rect x="76" y="547" width="7" height="7" fill="#FF5252"/><rect x="84" y="547" width="6" height="11" fill="#FF5252"/><rect x="91" y="547" width="7" height="11" fill="#FF5252"/><rect x="99" y="547" width="6" height="15" fill="#FF5252"/><rect x="106" y="547" width="7" height="16" fill="#FF5252"/><rect x="114" y="547" width="6" height="16" fill="#FF5252"/><rect x="121" y="547" width="7" height="18" fill="#FF5252"/><rect x="129" y="547" width="6" height="13" fill="#FFCDD2"/><rect x="136" y="547" width="7" height="12" fill="#FFCDD2"/><rect x="144" y="547" width="6" height="11" fill="#FFCDD2"/><rect x="151" y="547" width="7" height="11" fill="#FFCDD2"/><rect x="159" y="547" width="6" height="12" fill="#FF5252"/><rect x="166" y="547" width="7" height="9" fill="#FFCDD2"/><rect x="174" y="547" width="6" height="8" fill="#FFCDD2"/><rect x="181" y="547" width="7" height="2" fill="#FFCDD2"/><rect x="189" y="544" width="6" height="4" fill="#26A69A"/><rect x="196" y="540" width="7" height="8" fill="#26A69A"/><rect x="204" y="538" width="6" height="10" fill="#26A69A"/><rect x="211" y="534" width="7" height="14" fill="#26A69A"/><rect x="219" y="534" width="6" height="14" fill="#B2DFDB"/><rect x="226" y="532" width="7" height="16" fill="#26A69A"/><rect x="234" y="532" width="6" height="16" fill="#B2DFDB"/><rect x="241" y="533" width="7" height="15" fill="#B2DFDB"/><rect x="249" y="537" width="6" height="11" fill="#B2DFDB"/><rect x="256" y="538" width="7" height="10" fill="#B2DFDB"/><rect x="264" y="539" width="6" height="9" fill="#B2DFDB"/><rect x="271" y="541" width="7" height="7" fill="#B2DFDB"/><rect x="279" y="542" width="6" height="6" fill="#B2DFDB"/><rect x="286" y="537" width="7" height="11" fill="#26A69A"/><rect x="294" y="532" width="6" height="16" fill="#26A69A"/><rect x="301" y="528" width="7" height="20" fill="#26A69A"/><rect x="309" y="525" width="6" height="23" fill="#26A69A"/><rect x="316" y="525" width="7" height="23" fill="#26A69A"/><rect x="324" y="528" width="6" height="20" fill="#B2DFDB"/><rect x="331" y="525" width="7" height="23" fill="#26A69A"/><rect x="339" y="526" width="6" height="22" fill="#B2DFDB"/><rect x="346" y="529" width="7" height="19" fill="#B2DFDB"/><rect x="354" y="533" width="6" height="15" fill="#B2DFDB"/><rect x="361" y="538" width="7" height="10" fill="#B2DFDB"/><rect x="369" y="543" width="6" height="5" fill="#B2DFDB"/><rect x="376" y="543" width="7" height="5" fill="#B2DFDB"/><rect x="384" y="544" width="6" height="4" fill="#B2DFDB"/><rect x="391" y="546" width="7" height="2" fill="#B2DFDB"/><rect x="399" y="546" width="6" height="2" fill="#B2DFDB"/><rect x="406" y="547" width="7" height="1" fill="#B2DFDB"/><rect x="414" y="547" width="6" height="3" fill="#FF5252"/><rect x="421" y="547" width="7" height="4" fill="#FF5252"/><rect x="429" y="547" width="6" height="8" fill="#FF5252"/><rect x="436" y="547" width="7" height="12" fill="#FF5252"/><rect x="444" y="547" width="6" height="13" fill="#FF5252"/><rect x="451" y="547" width="7" height="13" fill="#FFCDD2"/><rect x="459" y="547" width="6" height="13" fill="#FF5252"/><rect x="466" y="547" width="7" height="11" fill="#FFCDD2"/><rect x="474" y="547" width="6" height="6" fill="#FFCDD2"/><rect x="481" y="547" width="7" height="4" fill="#FFCDD2"/><rect x="489" y="546" width="6" height="2" fill="#26A69A"/><rect x="496" y="547" width="7" height="2" fill="#FF5252"/><rect x="504" y="547" width="6" height="5" fill="#FF5252"/><rect x="511" y="547" width="7" height="6" fill="#FF5252"/><rect x="519" y="547" width="6" height="6" fill="#FF5252"/><rect x="526" y="547" width="7" height="6" fill="#FFCDD2"/><rect x="534" y="547" width="6" height="7" fill="#FF5252"/><rect x="541" y="547" width="7" height="6" fill="#FFCDD2"/><rect x="549" y="547" width="6" height="5" fill="#FFCDD2"/><rect x="556" y="547" width="7" height="2" fill="#FFCDD2"/><rect x="564" y="543" width="6" height="5" fill="#26A69A"/><rect x="571" y="538" width="7" height="10" fill="#26A69A"/><rect x="579" y="537" width="6" height="11" fill="#26A69A"/><rect x="586" y="540" width="7" height="8" fill="#B2DFDB"/><rect x="594" y="547" width="6" height="2" fill="#FF5252"/><rect x="601" y="547" width="7" height="6" fill="#FF5252"/><rect x="609" y="547" width="6" height="10" fill="#FF5252"/><rect x="616" y="547" width="7" height="13" fill="#FF5252"/><rect x="624" y="547" width="6" height="12" fill="#FFCDD2"/><rect x="631" y="547" width="7" height="15" fill="#FF5252"/><rect x="639" y="547" width="6" height="18" fill="#FF5252"/><rect x="646" y="547" width="7" height="19" fill="#FF5252"/><rect x="654" y="547" width="6" height="17" fill="#FFCDD2"/><rect x="661" y="547" width="7" height="14" fill="#FFCDD2"/><rect x="669" y="547" width="6" height="9" fill="#FFCDD2"/><rect x="676" y="547" width="7" height="5" fill="#FFCDD2"/><rect x="684" y="547" width="6" height="1" fill="#26A69A"/><rect x="691" y="547" width="7" height="1" fill="#26A69A"/><rect x="699" y="547" width="6" height="1" fill="#B2DFDB"/><rect x="706" y="547" width="7" height="2" fill="#FF5252"/><rect x="714" y="542" width="6" height="6" fill="#26A69A"/><rect x="721" y="541" width="7" height="7" fill="#26A69A"/><rect x="729" y="540" width="6" height="8" fill="#26A69A"/><rect x="736" y="540" width="7" height="8" fill="#B2DFDB"/><rect x="744" y="541" width="6" height="7" fill="#B2DFDB"/><rect x="751" y="541" width="7" height="7" fill="#B2DFDB"/><rect x="759" y="544" width="6" height="4" fill="#B2DFDB"/><rect x="766" y="546" width="7" height="2" fill="#B2DFDB"/><rect x="774" y="545" width="6" height="3" fill="#26A69A"/><rect x="781" y="544" width="7" height="4" fill="#26A69A"/><rect x="789" y="542" width="7" height="6" fill="#26A69A"/><rect x="797" y="541" width="6" height="7" fill="#26A69A"/><rect x="804" y="543" width="7" height="5" fill="#B2DFDB"/><rect x="812" y="545" width="6" height="3" fill="#B2DFDB"/><rect x="819" y="544" width="7" height="4" fill="#26A69A"/><rect x="827" y="545" width="6" height="3" fill="#B2DFDB"/><rect x="834" y="547" width="7" height="1" fill="#B2DFDB"/><rect x="842" y="547" width="6" height="1" fill="#B2DFDB"/><rect x="849" y="547" width="7" height="3" fill="#FF5252"/><rect x="857" y="547" width="6" height="2" fill="#FFCDD2"/><rect x="864" y="547" width="7" height="1" fill="#26A69A"/><rect x="872" y="546" width="6" height="2" fill="#26A69A"/><rect x="879" y="547" width="7" height="3" fill="#FF5252"/><rect x="887" y="547" width="6" height="4" fill="#FF5252"/><rect x="894" y="547" width="7" height="4" fill="#FFCDD2"/><rect x="902" y="547" width="6" height="3" fill="#FFCDD2"/><rect x="909" y="547" width="7" height="5" fill="#FF5252"/><rect x="917" y="547" width="6" height="5" fill="#FF5252"/><rect x="924" y="547" width="7" height="7" fill="#FF5252"/><rect x="932" y="547" width="6" height="10" fill="#FF5252"/><rect x="939" y="547" width="7" height="10" fill="#FF5252"/><rect x="947" y="547" width="6" height="11" fill="#FF5252"/><rect x="954" y="547" width="7" height="6" fill="#FFCDD2"/><rect x="962" y="547" width="6" height="3" fill="#FFCDD2"/><rect x="969" y="547" width="7" height="2" fill="#FFCDD2"/><rect x="977" y="546" width="6" height="2" fill="#26A69A"/><rect x="984" y="544" width="7" height="4" fill="#26A69A"/><rect x="992" y="540" width="6" height="8" fill="#26A69A"/><rect x="999" y="537" width="7" height="11" fill="#26A69A"/><rect x="1007" y="536" width="6" height="12" fill="#26A69A"/><rect x="1014" y="536" width="7" height="12" fill="#26A69A"/><rect x="1022" y="540" width="6" height="8" fill="#B2DFDB"/><rect x="1029" y="543" width="7" height="5" fill="#B2DFDB"/><rect x="1037" y="542" width="6" height="6" fill="#26A69A"/><rect x="1044" y="541" width="7" height="7" fill="#26A69A"/><rect x="1052" y="544" width="6" height="4" fill="#B2DFDB"/><rect x="1059" y="547" width="7" height="2" fill="#FF5252"/><rect x="1067" y="547" width="6" height="5" fill="#FF5252"/><rect x="1074" y="547" width="7" height="6" fill="#FF5252"/><rect x="1082" y="547" width="6" height="8" fill="#FF5252"/><rect x="1089" y="547" width="7" height="8" fill="#FF5252"/><rect x="1097" y="547" width="6" height="7" fill="#FFCDD2"/><rect x="1104" y="547" width="7" height="7" fill="#FFCDD2"/><rect x="1112" y="547" width="6" height="8" fill="#FF5252"/><rect x="1119" y="547" width="7" height="8" fill="#FF5252"/><rect x="1127" y="547" width="6" height="10" fill="#FF5252"/><rect x="1134" y="547" width="7" height="10" fill="#FF5252"/><rect x="1142" y="547" width="6" height="12" fill="#FF5252"/><rect x="1149" y="547" width="7" height="12" fill="#FF5252"/><rect x="1157" y="547" width="6" height="11" fill="#FFCDD2"/><rect x="1164" y="547" width="7" height="9" fill="#FFCDD2"/><rect x="1172" y="547" width="6" height="11" fill="#FF5252"/><rect x="1179" y="547" width="7" height="13" fill="#FF5252"/><rect x="1187" y="547" width="6" height="17" fill="#FF5252"/><rect x="1194" y="547" width="7" height="18" fill="#FF5252"/><rect x="1202" y="547" width="6" height="17" fill="#FFCDD2"/><rect x="1209" y="547" width="7" height="15" fill="#FFCDD2"/><rect x="1217" y="547" width="6" height="11" fill="#FFCDD2"/><rect x="1224" y="547" width="7" height="6" fill="#FFCDD2"/><rect x="1232" y="547" width="6" height="2" fill="#FFCDD2"/><rect x="1239" y="546" width="7" height="2" fill="#26A69A"/><rect x="1247" y="544" width="6" height="4" fill="#26A69A"/><rect x="1254" y="542" width="7" height="6" fill="#26A69A"/><rect x="1262" y="540" width="6" height="8" fill="#26A69A"/><rect x="1269" y="542" width="7" height="6" fill="#B2DFDB"/><rect x="1277" y="547" width="6" height="1" fill="#B2DFDB"/><rect x="1284" y="547" width="7" height="14" fill="#FF5252"/><rect x="1292" y="547" width="6" height="20" fill="#FF5252"/><rect x="1299" y="547" width="7" height="26" fill="#FF5252"/><rect x="1307" y="547" width="6" height="23" fill="#FFCDD2"/><rect x="1314" y="547" width="7" height="18" fill="#FFCDD2"/><rect x="1322" y="547" width="6" height="21" fill="#FF5252"/><rect x="1329" y="547" width="7" height="19" fill="#FFCDD2"/></g>
<path d="M11.9,568.2 L19.4,570.3 L26.9,574.4 L34.4,568.6 L42.0,559.8 L49.5,555.9 L57.0,553.3 L64.5,555.4 L72.0,558.6 L79.5,563.5 L87.0,569.1 L94.5,572.2 L102.0,579.3 L109.5,584.0 L117.0,587.9 L124.5,594.0 L132.0,591.0 L139.5,593.3 L147.0,594.5 L154.5,596.8 L162.0,600.3 L169.5,599.3 L177.0,599.8 L184.5,592.8 L192.0,587.5 L199.5,582.6 L207.0,578.4 L214.5,570.8 L222.0,567.3 L229.6,561.7 L237.1,558.0 L244.6,555.1 L252.1,557.2 L259.6,555.9 L267.1,554.5 L274.6,554.7 L282.1,554.2 L289.6,545.8 L297.1,537.5 L304.6,529.3 L312.1,520.8 L319.6,514.7 L327.1,513.5 L334.6,503.3 L342.1,499.8 L349.6,498.0 L357.1,498.4 L364.6,499.4 L372.1,501.0 L379.6,503.3 L387.1,503.8 L394.6,505.4 L402.1,505.4 L409.6,506.8 L417.2,509.1 L424.7,510.3 L432.2,516.5 L439.7,522.9 L447.2,526.6 L454.7,529.3 L462.2,532.2 L469.7,532.2 L477.2,528.4 L484.7,526.6 L492.2,522.6 L499.7,524.7 L507.2,527.9 L514.7,530.5 L522.2,532.2 L529.7,534.0 L537.2,536.3 L544.7,536.3 L552.2,535.4 L559.7,532.8 L567.2,527.5 L574.7,519.6 L582.2,515.9 L589.7,516.8 L597.2,524.0 L604.8,529.6 L612.3,536.1 L619.8,541.9 L627.3,544.5 L634.8,550.7 L642.3,557.7 L649.8,563.5 L657.3,565.2 L664.8,564.7 L672.3,562.9 L679.8,558.9 L687.3,555.1 L694.8,554.2 L702.3,554.2 L709.8,555.1 L717.3,548.6 L724.8,544.9 L732.3,542.4 L739.8,540.5 L747.3,538.9 L754.8,537.5 L762.3,539.3 L769.8,541.0 L777.3,539.3 L784.8,538.0 L792.4,534.5 L799.9,531.9 L807.4,531.9 L814.9,533.1 L822.4,531.9 L829.9,532.6 L837.4,533.6 L844.9,534.9 L852.4,536.3 L859.9,535.2 L867.4,534.9 L874.9,533.6 L882.4,536.3 L889.9,538.4 L897.4,538.4 L904.9,538.4 L912.4,540.7 L919.9,542.8 L927.4,546.3 L934.9,550.7 L942.4,552.9 L949.9,555.4 L957.4,554.2 L964.9,550.3 L972.4,550.3 L980.0,547.2 L987.5,544.9 L995.0,538.0 L1002.5,532.2 L1010.0,528.2 L1017.5,525.6 L1025.0,528.2 L1032.5,530.5 L1040.0,527.0 L1047.5,525.6 L1055.0,526.6 L1062.5,531.0 L1070.0,534.9 L1077.5,537.2 L1085.0,540.7 L1092.5,542.8 L1100.0,542.8 L1107.5,544.0 L1115.0,546.3 L1122.5,548.4 L1130.0,551.9 L1137.5,554.7 L1145.0,559.6 L1152.5,562.2 L1160.0,563.5 L1167.6,564.9 L1175.1,567.9 L1182.6,572.8 L1190.1,580.3 L1197.6,585.9 L1205.1,588.6 L1212.6,590.3 L1220.1,588.2 L1227.6,584.2 L1235.1,581.0 L1242.6,577.7 L1250.1,574.2 L1257.6,570.7 L1265.1,567.2 L1272.6,568.0 L1280.1,572.8 L1287.6,589.4 L1295.1,600.8 L1302.6,612.6 L1310.1,614.9 L1317.6,614.4 L1325.1,621.5 L1332.6,625.4" fill="none" stroke="#2196F3" stroke-width="1.2" stroke-linejoin="round" clip-path="url(#cm)"/>
<path d="M11.9,542.8 L19.4,548.0 L26.9,553.3 L34.4,556.3 L42.0,556.8 L49.5,556.5 L57.0,555.9 L64.5,555.6 L72.0,556.3 L79.5,558.0 L87.0,560.7 L94.5,563.3 L102.0,566.8 L109.5,570.5 L117.0,574.0 L124.5,577.9 L132.0,580.5 L139.5,583.1 L147.0,585.4 L154.5,587.9 L162.0,590.5 L169.5,592.2 L177.0,593.6 L184.5,593.6 L192.0,592.4 L199.5,590.5 L207.0,588.0 L214.5,584.9 L222.0,581.4 L229.6,577.3 L237.1,573.5 L244.6,570.0 L252.1,567.3 L259.6,565.1 L267.1,562.9 L274.6,561.2 L282.1,559.8 L289.6,556.5 L297.1,552.9 L304.6,547.7 L312.1,542.2 L319.6,536.6 L327.1,531.4 L334.6,526.1 L342.1,521.2 L349.6,516.8 L357.1,513.3 L364.6,510.8 L372.1,509.4 L379.6,508.6 L387.1,507.7 L394.6,507.2 L402.1,507.0 L409.6,506.8 L417.2,507.0 L424.7,507.7 L432.2,509.8 L439.7,512.6 L447.2,515.2 L454.7,517.9 L462.2,520.5 L469.7,523.1 L477.2,524.0 L484.7,524.7 L492.2,524.7 L499.7,524.9 L507.2,525.8 L514.7,526.6 L522.2,527.9 L529.7,529.3 L537.2,530.5 L544.7,531.4 L552.2,532.2 L559.7,532.2 L567.2,531.0 L574.7,528.7 L582.2,526.1 L589.7,524.7 L597.2,524.7 L604.8,525.8 L612.3,527.9 L619.8,530.8 L627.3,533.6 L634.8,537.2 L642.3,541.4 L649.8,545.9 L657.3,549.8 L664.8,552.9 L672.3,554.7 L679.8,555.4 L687.3,555.1 L694.8,554.7 L702.3,554.7 L709.8,554.7 L717.3,553.6 L724.8,551.9 L732.3,549.8 L739.8,548.0 L747.3,546.3 L754.8,544.5 L762.3,543.6 L769.8,543.1 L777.3,542.2 L784.8,541.4 L792.4,539.8 L799.9,538.4 L807.4,537.2 L814.9,536.3 L822.4,535.4 L829.9,534.9 L837.4,534.5 L844.9,534.9 L852.4,535.4 L859.9,535.2 L867.4,534.9 L874.9,534.9 L882.4,535.4 L889.9,535.9 L897.4,536.3 L904.9,536.6 L912.4,537.5 L919.9,538.7 L927.4,540.5 L934.9,542.4 L942.4,544.5 L949.9,546.6 L957.4,547.7 L964.9,548.0 L972.4,548.4 L980.0,548.0 L987.5,547.2 L995.0,545.4 L1002.5,542.8 L1010.0,539.8 L1017.5,537.2 L1025.0,535.4 L1032.5,534.4 L1040.0,532.8 L1047.5,531.4 L1055.0,530.5 L1062.5,530.5 L1070.0,531.4 L1077.5,532.6 L1085.0,534.4 L1092.5,536.1 L1100.0,537.2 L1107.5,538.7 L1115.0,540.1 L1122.5,541.9 L1130.0,544.0 L1137.5,546.3 L1145.0,549.6 L1152.5,552.1 L1160.0,554.4 L1167.6,556.1 L1175.1,558.7 L1182.6,561.9 L1190.1,566.1 L1197.6,570.5 L1205.1,574.2 L1212.6,577.2 L1220.1,579.3 L1227.6,580.1 L1235.1,580.1 L1242.6,579.4 L1250.1,578.4 L1257.6,576.8 L1265.1,575.1 L1272.6,574.2 L1280.1,574.2 L1287.6,576.8 L1295.1,581.5 L1302.6,587.7 L1310.1,593.5 L1317.6,597.7 L1325.1,602.2 L1332.6,606.9" fill="none" stroke="#FF6D00" stroke-width="1.2" stroke-linejoin="round" clip-path="url(#cm)"/>
<text x="1572" y="39.1" fill="#131722" textLength="52.5" lengthAdjust="spacingAndGlyphs" >1.12000</text>
<text x="1572" y="91.9" fill="#131722" textLength="52.5" lengthAdjust="spacingAndGlyphs" >1.11000</text>
<text x="1572" y="248.9" fill="#131722" textLength="52.5" lengthAdjust="spacingAndGlyphs" >1.08000</text>
<text x="1572" y="302.0" fill="#131722" textLength="52.5" lengthAdjust="spacingAndGlyphs" >1.07000</text>
<text x="1571.6" y="373.0" fill="#131722" textLength="36.8" lengthAdjust="spacingAndGlyphs" >60.00</text>
<text x="1571.6" y="425.1" fill="#131722" textLength="36.8" lengthAdjust="spacingAndGlyphs" >40.00</text>
<text x="1571.6" y="476.7" fill="#131722" textLength="36.8" lengthAdjust="spacingAndGlyphs" >20.00</text>
<g clip-path="url(#cs)">
<text x="1571.6" y="492.1" fill="#131722" textLength="52.5" lengthAdjust="spacingAndGlyphs" >0.00500</text>
</g>
<text x="1571.6" y="553.0" fill="#131722" textLength="52.5" lengthAdjust="spacingAndGlyphs" >0.00000</text>
<rect x="1560" y="103" width="1" height="21" fill="#fff" shape-rendering="crispEdges"/>
<path d="M1561,103h69a2,2 0 0 1 2,2v17a2,2 0 0 1 -2,2h-69z" fill="#2196F3"/>
<text x="1572" y="119.0" fill="#fff" textLength="52.5" lengthAdjust="spacingAndGlyphs" >1.10251</text>
<rect x="1560" y="125" width="1" height="21" fill="#fff" shape-rendering="crispEdges"/>
<path d="M1561,125h69a2,2 0 0 1 2,2v17a2,2 0 0 1 -2,2h-69z" fill="#26C6DA"/>
<text x="1572" y="141.0" fill="#131722" textLength="52.5" lengthAdjust="spacingAndGlyphs" >1.10081</text>
<rect x="1560" y="155" width="1" height="21" fill="#fff" shape-rendering="crispEdges"/>
<path d="M1561,155h69a2,2 0 0 1 2,2v17a2,2 0 0 1 -2,2h-69z" fill="#2196F3"/>
<text x="1572" y="171.0" fill="#fff" textLength="52.5" lengthAdjust="spacingAndGlyphs" >1.09282</text>
<rect x="1560" y="176" width="1" height="21" fill="#fff" shape-rendering="crispEdges"/>
<path d="M1561,176h69a2,2 0 0 1 2,2v17a2,2 0 0 1 -2,2h-69z" fill="#FF6D00"/>
<text x="1572" y="192.0" fill="#fff" textLength="52.5" lengthAdjust="spacingAndGlyphs" >1.09098</text>
<path d="M1487,248h73v21h-73a2,2 0 0 1 -2,-2v-17a2,2 0 0 1 2,-2z" fill="#089981"/>
<text x="1491.5" y="264.0" fill="#fff" textLength="62.4" lengthAdjust="spacingAndGlyphs" >AUD/NZD</text>
<rect x="1560" y="248" width="1" height="21" fill="#fff" shape-rendering="crispEdges"/>
<path d="M1561,248h68.8a2,2 0 0 1 2,2v17a2,2 0 0 1 -2,2h-68.8z" fill="#089981"/>
<text x="1572.3" y="264.0" fill="#fff" textLength="52.3" lengthAdjust="spacingAndGlyphs" >1.07719</text>
<rect x="1560" y="432" width="1" height="21" fill="#fff" shape-rendering="crispEdges"/>
<path d="M1561,432h52.5a2,2 0 0 1 2,2v17a2,2 0 0 1 -2,2h-52.5z" fill="#7E57C2"/>
<text x="1571.6" y="448.0" fill="#fff" textLength="36.8" lengthAdjust="spacingAndGlyphs" >31.06</text>
<rect x="1560" y="556" width="1" height="21" fill="#fff" shape-rendering="crispEdges"/>
<path d="M1561,556h77.2a2,2 0 0 1 2,2v17a2,2 0 0 1 -2,2h-77.2z" fill="#FFCDD2"/>
<text x="1571.6" y="572.0" fill="#131722" textLength="61.4" lengthAdjust="spacingAndGlyphs" >−0.00150</text>
<rect x="1560" y="597" width="1" height="21" fill="#fff" shape-rendering="crispEdges"/>
<path d="M1561,597h77.2a2,2 0 0 1 2,2v17a2,2 0 0 1 -2,2h-77.2z" fill="#FF6D00"/>
<text x="1571.6" y="613.0" fill="#fff" textLength="61.4" lengthAdjust="spacingAndGlyphs" >−0.00486</text>
<rect x="1560" y="618" width="1" height="21" fill="#fff" shape-rendering="crispEdges"/>
<path d="M1561,618h77.2a2,2 0 0 1 2,2v17a2,2 0 0 1 -2,2h-77.2z" fill="#2196F3"/>
<text x="1571.6" y="634.0" fill="#fff" textLength="61.4" lengthAdjust="spacingAndGlyphs" >−0.00637</text>
<text x="131.8" y="662" fill="#131722" textLength="23.5" lengthAdjust="spacingAndGlyphs" text-anchor="middle" >Sep</text>
<text x="289.1" y="662" fill="#131722" textLength="23.2" lengthAdjust="spacingAndGlyphs" text-anchor="middle" >Oct</text>
<text x="462.1" y="662" fill="#131722" textLength="24.3" lengthAdjust="spacingAndGlyphs" text-anchor="middle" >Nov</text>
<text x="619.6" y="662" fill="#131722" textLength="23.9" lengthAdjust="spacingAndGlyphs" text-anchor="middle" >Dec</text>
<text x="784.4" y="662" fill="#131722" textLength="34" lengthAdjust="spacingAndGlyphs" text-anchor="middle" font-weight="bold" >2025</text>
<text x="957" y="662" fill="#131722" textLength="24" lengthAdjust="spacingAndGlyphs" text-anchor="middle" >Feb</text>
<text x="1106.5" y="662" fill="#131722" textLength="24.3" lengthAdjust="spacingAndGlyphs" text-anchor="middle" >Mar</text>
<text x="1264.6" y="662" fill="#131722" textLength="23" lengthAdjust="spacingAndGlyphs" text-anchor="middle" >Apr</text>
<text x="1459" y="662" fill="#131722" textLength="25.7" lengthAdjust="spacingAndGlyphs" text-anchor="middle" >May</text>
<text x="23.2" y="38" fill="#131722" textLength="123.2" lengthAdjust="spacingAndGlyphs" >AUD/NZD Spot, 1D</text>
<text x="156.3" y="38" fill="#131722" textLength="9.3" lengthAdjust="spacingAndGlyphs" >O</text>
<text x="167.6" y="38" fill="#089981" textLength="50.7" lengthAdjust="spacingAndGlyphs" >1.07632</text>
<text x="228.6" y="38" fill="#131722" textLength="9.0" lengthAdjust="spacingAndGlyphs" >H</text>
<text x="239" y="38" fill="#089981" textLength="50.9" lengthAdjust="spacingAndGlyphs" >1.08287</text>
<text x="299.9" y="38" fill="#131722" textLength="7.1" lengthAdjust="spacingAndGlyphs" >L</text>
<text x="309" y="38" fill="#089981" textLength="50.2" lengthAdjust="spacingAndGlyphs" >1.07416</text>
<text x="369.1" y="38" fill="#131722" textLength="8.1" lengthAdjust="spacingAndGlyphs" >C</text>
<text x="378.7" y="38" fill="#089981" textLength="51.3" lengthAdjust="spacingAndGlyphs" >1.07719</text>
<text x="440.3" y="38" fill="#089981" textLength="58.0" lengthAdjust="spacingAndGlyphs" >+0.00087</text>
<text x="505.5" y="38" fill="#089981" textLength="55.3" lengthAdjust="spacingAndGlyphs" >(+0.08%)</text>
<text x="23.2" y="59.4" fill="#131722" textLength="298.8" lengthAdjust="spacingAndGlyphs" >Moving Average Triple (20, 100, 200, Simple)</text>
<text x="332.5" y="59.4" fill="#FF6D00" textLength="51.7" lengthAdjust="spacingAndGlyphs" >1.09098</text>
<text x="394.5" y="59.4" fill="#2196F3" textLength="50.4" lengthAdjust="spacingAndGlyphs" >1.10251</text>
<text x="456.1" y="59.4" fill="#26C6DA" textLength="50.3" lengthAdjust="spacingAndGlyphs" >1.10081</text>
<text x="23.2" y="79.7" fill="#131722" textLength="120.5" lengthAdjust="spacingAndGlyphs" >EMA (30, close, 0)</text>
<text x="154" y="79.7" fill="#2196F3" textLength="51.3" lengthAdjust="spacingAndGlyphs" >1.09282</text>
<text x="23.5" y="350.7" fill="#131722" textLength="50.2" lengthAdjust="spacingAndGlyphs" >RSI (14)</text>
<text x="83.7" y="350.7" fill="#7E57C2" textLength="36.3" lengthAdjust="spacingAndGlyphs" >31.06</text>
<text x="23.2" y="507.3" fill="#131722" textLength="156.1" lengthAdjust="spacingAndGlyphs" >MACD (12, 26, close, 9)</text>
<text x="189" y="507.3" fill="#FFCDD2" textLength="60" lengthAdjust="spacingAndGlyphs" >−0.00150</text>
<text x="259" y="507.3" fill="#2196F3" textLength="59.5" lengthAdjust="spacingAndGlyphs" >−0.00637</text>
<text x="328.7" y="507.3" fill="#FF6D00" textLength="59.6" lengthAdjust="spacingAndGlyphs" >−0.00486</text>
<g fill="#131722"><path d="M13.2,689.7H22.8V701.7H17.7V695H13.2Z"/><circle cx="27" cy="692.1" r="2.4"/><path d="M31.1,689.7H37.1L32.7,701.7H26.9Z"/></g>
<text x="41.9" y="701.7" fill="#131722" textLength="87.7" lengthAdjust="spacingAndGlyphs" font-size="15.2" >TradingView</text>
</svg>
</body></html>
